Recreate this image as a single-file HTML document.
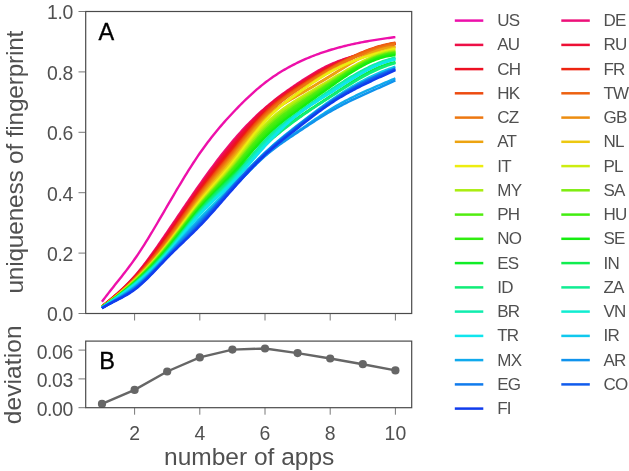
<!DOCTYPE html>
<html><head><meta charset="utf-8"><title>uniqueness of fingerprint</title>
<style>html,body{margin:0;padding:0;background:#fff}svg{display:block}text{font-family:"Liberation Sans",sans-serif;fill:#505050}</style></head><body>
<svg width="629" height="471" viewBox="0 0 629 471">
<rect width="629" height="471" fill="#fff"/>
<g fill="none" stroke-width="2.4" stroke-linecap="butt" stroke-linejoin="round">
<path d="M101.95,301.80 L103.58,299.58 L105.21,297.39 L106.84,295.25 L108.47,293.13 L110.10,291.03 L111.73,288.95 L113.36,286.89 L114.99,284.84 L116.62,282.79 L118.25,280.75 L119.88,278.70 L121.51,276.64 L123.14,274.57 L124.77,272.48 L126.40,270.37 L128.03,268.23 L129.66,266.06 L131.29,263.85 L132.92,261.60 L134.56,259.30 L136.19,256.95 L137.82,254.56 L139.45,252.11 L141.08,249.63 L142.71,247.10 L144.34,244.54 L145.97,241.94 L147.60,239.31 L149.23,236.65 L150.86,233.96 L152.49,231.25 L154.12,228.51 L155.75,225.76 L157.38,222.99 L159.01,220.21 L160.64,217.42 L162.27,214.62 L163.90,211.82 L165.53,209.01 L167.16,206.20 L168.79,203.40 L170.42,200.60 L172.05,197.80 L173.68,195.02 L175.31,192.24 L176.94,189.48 L178.57,186.74 L180.20,184.01 L181.83,181.30 L183.46,178.61 L185.09,175.94 L186.72,173.30 L188.35,170.69 L189.98,168.10 L191.61,165.55 L193.24,163.02 L194.87,160.54 L196.50,158.08 L198.13,155.67 L199.76,153.30 L201.40,150.97 L203.03,148.68 L204.66,146.43 L206.29,144.23 L207.92,142.06 L209.55,139.92 L211.18,137.82 L212.81,135.76 L214.44,133.73 L216.07,131.73 L217.70,129.76 L219.33,127.82 L220.96,125.90 L222.59,124.02 L224.22,122.16 L225.85,120.32 L227.48,118.51 L229.11,116.72 L230.74,114.95 L232.37,113.20 L234.00,111.47 L235.63,109.76 L237.26,108.06 L238.89,106.39 L240.52,104.74 L242.15,103.10 L243.78,101.49 L245.41,99.91 L247.04,98.34 L248.67,96.80 L250.30,95.28 L251.93,93.79 L253.56,92.32 L255.19,90.88 L256.82,89.46 L258.45,88.08 L260.08,86.71 L261.71,85.38 L263.34,84.08 L264.97,82.80 L266.61,81.55 L268.24,80.34 L269.87,79.15 L271.50,77.99 L273.13,76.85 L274.76,75.75 L276.39,74.67 L278.02,73.61 L279.65,72.58 L281.28,71.57 L282.91,70.59 L284.54,69.63 L286.17,68.69 L287.80,67.78 L289.43,66.88 L291.06,66.01 L292.69,65.15 L294.32,64.32 L295.95,63.50 L297.58,62.70 L299.21,61.92 L300.84,61.15 L302.47,60.41 L304.10,59.68 L305.73,58.96 L307.36,58.26 L308.99,57.58 L310.62,56.91 L312.25,56.26 L313.88,55.62 L315.51,55.00 L317.14,54.39 L318.77,53.79 L320.40,53.21 L322.03,52.64 L323.66,52.09 L325.29,51.55 L326.92,51.02 L328.55,50.50 L330.19,50.00 L331.82,49.51 L333.45,49.03 L335.08,48.56 L336.71,48.10 L338.34,47.65 L339.97,47.22 L341.60,46.79 L343.23,46.37 L344.86,45.97 L346.49,45.57 L348.12,45.19 L349.75,44.81 L351.38,44.44 L353.01,44.08 L354.64,43.73 L356.27,43.39 L357.90,43.06 L359.53,42.73 L361.16,42.41 L362.79,42.10 L364.42,41.80 L366.05,41.50 L367.68,41.21 L369.31,40.93 L370.94,40.65 L372.57,40.38 L374.20,40.11 L375.83,39.85 L377.46,39.60 L379.09,39.35 L380.72,39.11 L382.35,38.87 L383.98,38.64 L385.61,38.40 L387.24,38.18 L388.87,37.96 L390.50,37.74 L392.13,37.52 L393.76,37.31 L395.39,37.10" stroke="#ed10aa"/>
<path d="M101.95,306.40 L103.58,305.07 L105.21,303.73 L106.84,302.39 L108.47,301.04 L110.10,299.69 L111.73,298.32 L113.36,296.93 L114.99,295.52 L116.62,294.10 L118.25,292.65 L119.88,291.18 L121.51,289.67 L123.14,288.14 L124.77,286.57 L126.40,284.96 L128.03,283.32 L129.66,281.63 L131.29,279.90 L132.92,278.13 L134.56,276.30 L136.19,274.42 L137.82,272.49 L139.45,270.52 L141.08,268.50 L142.71,266.44 L144.34,264.34 L145.97,262.20 L147.60,260.02 L149.23,257.82 L150.86,255.58 L152.49,253.32 L154.12,251.03 L155.75,248.72 L157.38,246.38 L159.01,244.03 L160.64,241.67 L162.27,239.29 L163.90,236.90 L165.53,234.50 L167.16,232.10 L168.79,229.69 L170.42,227.29 L172.05,224.88 L173.68,222.46 L175.31,220.05 L176.94,217.64 L178.57,215.23 L180.20,212.83 L181.83,210.42 L183.46,208.02 L185.09,205.63 L186.72,203.24 L188.35,200.85 L189.98,198.48 L191.61,196.11 L193.24,193.75 L194.87,191.39 L196.50,189.05 L198.13,186.72 L199.76,184.40 L201.40,182.09 L203.03,179.80 L204.66,177.52 L206.29,175.25 L207.92,173.00 L209.55,170.76 L211.18,168.54 L212.81,166.34 L214.44,164.15 L216.07,161.99 L217.70,159.84 L219.33,157.71 L220.96,155.61 L222.59,153.52 L224.22,151.46 L225.85,149.42 L227.48,147.40 L229.11,145.41 L230.74,143.44 L232.37,141.50 L234.00,139.58 L235.63,137.70 L237.26,135.83 L238.89,134.00 L240.52,132.18 L242.15,130.40 L243.78,128.64 L245.41,126.91 L247.04,125.20 L248.67,123.52 L250.30,121.86 L251.93,120.23 L253.56,118.63 L255.19,117.05 L256.82,115.49 L258.45,113.96 L260.08,112.46 L261.71,110.98 L263.34,109.53 L264.97,108.10 L266.61,106.70 L268.24,105.32 L269.87,103.96 L271.50,102.63 L273.13,101.31 L274.76,100.02 L276.39,98.75 L278.02,97.49 L279.65,96.26 L281.28,95.04 L282.91,93.84 L284.54,92.65 L286.17,91.48 L287.80,90.32 L289.43,89.17 L291.06,88.04 L292.69,86.91 L294.32,85.80 L295.95,84.70 L297.58,83.60 L299.21,82.51 L300.84,81.43 L302.47,80.36 L304.10,79.30 L305.73,78.26 L307.36,77.22 L308.99,76.20 L310.62,75.19 L312.25,74.20 L313.88,73.22 L315.51,72.27 L317.14,71.33 L318.77,70.41 L320.40,69.51 L322.03,68.63 L323.66,67.78 L325.29,66.94 L326.92,66.14 L328.55,65.36 L330.19,64.60 L331.82,63.87 L333.45,63.17 L335.08,62.49 L336.71,61.84 L338.34,61.21 L339.97,60.60 L341.60,60.01 L343.23,59.44 L344.86,58.89 L346.49,58.35 L348.12,57.83 L349.75,57.32 L351.38,56.82 L353.01,56.34 L354.64,55.87 L356.27,55.40 L357.90,54.94 L359.53,54.49 L361.16,54.04 L362.79,53.60 L364.42,53.16 L366.05,52.72 L367.68,52.28 L369.31,51.84 L370.94,51.40 L372.57,50.95 L374.20,50.50 L375.83,50.04 L377.46,49.57 L379.09,49.10 L380.72,48.62 L382.35,48.12 L383.98,47.61 L385.61,47.09 L387.24,46.55 L388.87,46.00 L390.50,45.43 L392.13,44.84 L393.76,44.23 L395.39,43.60" stroke="#ed1079"/>
<path d="M101.95,306.46 L103.58,305.15 L105.21,303.83 L106.84,302.51 L108.47,301.18 L110.10,299.84 L111.73,298.48 L113.36,297.11 L114.99,295.72 L116.62,294.30 L118.25,292.87 L119.88,291.41 L121.51,289.92 L123.14,288.40 L124.77,286.84 L126.40,285.26 L128.03,283.63 L129.66,281.97 L131.29,280.27 L132.92,278.52 L134.56,276.73 L136.19,274.88 L137.82,272.99 L139.45,271.06 L141.08,269.09 L142.71,267.07 L144.34,265.02 L145.97,262.93 L147.60,260.81 L149.23,258.65 L150.86,256.47 L152.49,254.25 L154.12,252.02 L155.75,249.75 L157.38,247.47 L159.01,245.17 L160.64,242.85 L162.27,240.51 L163.90,238.17 L165.53,235.81 L167.16,233.44 L168.79,231.06 L170.42,228.68 L172.05,226.29 L173.68,223.91 L175.31,221.51 L176.94,219.12 L178.57,216.73 L180.20,214.34 L181.83,211.95 L183.46,209.56 L185.09,207.18 L186.72,204.80 L188.35,202.43 L189.98,200.07 L191.61,197.71 L193.24,195.37 L194.87,193.04 L196.50,190.72 L198.13,188.41 L199.76,186.12 L201.40,183.84 L203.03,181.58 L204.66,179.34 L206.29,177.11 L207.92,174.90 L209.55,172.70 L211.18,170.52 L212.81,168.35 L214.44,166.20 L216.07,164.07 L217.70,161.95 L219.33,159.85 L220.96,157.76 L222.59,155.69 L224.22,153.64 L225.85,151.60 L227.48,149.57 L229.11,147.57 L230.74,145.58 L232.37,143.60 L234.00,141.64 L235.63,139.70 L237.26,137.77 L238.89,135.87 L240.52,133.98 L242.15,132.12 L243.78,130.27 L245.41,128.45 L247.04,126.65 L248.67,124.88 L250.30,123.13 L251.93,121.41 L253.56,119.72 L255.19,118.05 L256.82,116.41 L258.45,114.81 L260.08,113.23 L261.71,111.69 L263.34,110.18 L264.97,108.70 L266.61,107.26 L268.24,105.85 L269.87,104.47 L271.50,103.13 L273.13,101.81 L274.76,100.52 L276.39,99.25 L278.02,98.01 L279.65,96.79 L281.28,95.60 L282.91,94.42 L284.54,93.26 L286.17,92.12 L287.80,90.99 L289.43,89.88 L291.06,88.77 L292.69,87.68 L294.32,86.60 L295.95,85.52 L297.58,84.45 L299.21,83.38 L300.84,82.32 L302.47,81.27 L304.10,80.22 L305.73,79.18 L307.36,78.15 L308.99,77.13 L310.62,76.12 L312.25,75.13 L313.88,74.15 L315.51,73.18 L317.14,72.23 L318.77,71.29 L320.40,70.38 L322.03,69.48 L323.66,68.60 L325.29,67.74 L326.92,66.90 L328.55,66.09 L330.19,65.30 L331.82,64.54 L333.45,63.79 L335.08,63.08 L336.71,62.38 L338.34,61.70 L339.97,61.05 L341.60,60.41 L343.23,59.79 L344.86,59.19 L346.49,58.61 L348.12,58.04 L349.75,57.48 L351.38,56.94 L353.01,56.40 L354.64,55.88 L356.27,55.37 L357.90,54.87 L359.53,54.37 L361.16,53.88 L362.79,53.40 L364.42,52.92 L366.05,52.45 L367.68,51.98 L369.31,51.51 L370.94,51.04 L372.57,50.57 L374.20,50.10 L375.83,49.62 L377.46,49.15 L379.09,48.67 L380.72,48.18 L382.35,47.69 L383.98,47.19 L385.61,46.68 L387.24,46.16 L388.87,45.64 L390.50,45.10 L392.13,44.54 L393.76,43.98 L395.39,43.40" stroke="#ed1047"/>
<path d="M101.95,306.52 L103.58,305.23 L105.21,303.94 L106.84,302.63 L108.47,301.32 L110.10,299.99 L111.73,298.65 L113.36,297.29 L114.99,295.91 L116.62,294.51 L118.25,293.08 L119.88,291.64 L121.51,290.16 L123.14,288.66 L124.77,287.12 L126.40,285.55 L128.03,283.95 L129.66,282.31 L131.29,280.63 L132.92,278.91 L134.56,277.15 L136.19,275.34 L137.82,273.49 L139.45,271.60 L141.08,269.67 L142.71,267.70 L144.34,265.70 L145.97,263.66 L147.60,261.59 L149.23,259.48 L150.86,257.35 L152.49,255.19 L154.12,253.00 L155.75,250.79 L157.38,248.56 L159.01,246.30 L160.64,244.03 L162.27,241.74 L163.90,239.43 L165.53,237.11 L167.16,234.78 L168.79,232.43 L170.42,230.08 L172.05,227.71 L173.68,225.35 L175.31,222.97 L176.94,220.60 L178.57,218.22 L180.20,215.84 L181.83,213.47 L183.46,211.09 L185.09,208.72 L186.72,206.36 L188.35,204.00 L189.98,201.66 L191.61,199.32 L193.24,196.99 L194.87,194.68 L196.50,192.38 L198.13,190.10 L199.76,187.84 L201.40,185.60 L203.03,183.37 L204.66,181.16 L206.29,178.97 L207.92,176.80 L209.55,174.64 L211.18,172.50 L212.81,170.37 L214.44,168.25 L216.07,166.15 L217.70,164.06 L219.33,161.99 L220.96,159.92 L222.59,157.86 L224.22,155.82 L225.85,153.78 L227.48,151.75 L229.11,149.72 L230.74,147.71 L232.37,145.70 L234.00,143.70 L235.63,141.70 L237.26,139.71 L238.89,137.74 L240.52,135.78 L242.15,133.83 L243.78,131.90 L245.41,129.99 L247.04,128.10 L248.67,126.24 L250.30,124.40 L251.93,122.58 L253.56,120.80 L255.19,119.05 L256.82,117.33 L258.45,115.64 L260.08,114.00 L261.71,112.39 L263.34,110.82 L264.97,109.30 L266.61,107.82 L268.24,106.39 L269.87,104.99 L271.50,103.63 L273.13,102.31 L274.76,101.03 L276.39,99.77 L278.02,98.55 L279.65,97.35 L281.28,96.17 L282.91,95.02 L284.54,93.89 L286.17,92.78 L287.80,91.68 L289.43,90.60 L291.06,89.52 L292.69,88.46 L294.32,87.40 L295.95,86.35 L297.58,85.30 L299.21,84.25 L300.84,83.20 L302.47,82.15 L304.10,81.11 L305.73,80.07 L307.36,79.04 L308.99,78.02 L310.62,77.01 L312.25,76.00 L313.88,75.01 L315.51,74.03 L317.14,73.06 L318.77,72.11 L320.40,71.18 L322.03,70.26 L323.66,69.37 L325.29,68.49 L326.92,67.64 L328.55,66.81 L330.19,66.00 L331.82,65.22 L333.45,64.46 L335.08,63.73 L336.71,63.02 L338.34,62.33 L339.97,61.67 L341.60,61.02 L343.23,60.39 L344.86,59.78 L346.49,59.18 L348.12,58.60 L349.75,58.03 L351.38,57.48 L353.01,56.94 L354.64,56.41 L356.27,55.89 L357.90,55.38 L359.53,54.88 L361.16,54.39 L362.79,53.90 L364.42,53.42 L366.05,52.94 L367.68,52.46 L369.31,51.99 L370.94,51.51 L372.57,51.04 L374.20,50.56 L375.83,50.09 L377.46,49.60 L379.09,49.12 L380.72,48.63 L382.35,48.13 L383.98,47.63 L385.61,47.11 L387.24,46.59 L388.87,46.06 L390.50,45.51 L392.13,44.96 L393.76,44.39 L395.39,43.80" stroke="#ed1035"/>
<path d="M101.95,306.58 L103.58,305.31 L105.21,304.04 L106.84,302.75 L108.47,301.45 L110.10,300.14 L111.73,298.81 L113.36,297.46 L114.99,296.10 L116.62,294.71 L118.25,293.30 L119.88,291.87 L121.51,290.40 L123.14,288.92 L124.77,287.40 L126.40,285.85 L128.03,284.27 L129.66,282.65 L131.29,281.00 L132.92,279.31 L134.56,277.57 L136.19,275.80 L137.82,273.99 L139.45,272.14 L141.08,270.25 L142.71,268.33 L144.34,266.37 L145.97,264.38 L147.60,262.36 L149.23,260.30 L150.86,258.22 L152.49,256.11 L154.12,253.98 L155.75,251.82 L157.38,249.63 L159.01,247.43 L160.64,245.20 L162.27,242.95 L163.90,240.69 L165.53,238.41 L167.16,236.11 L168.79,233.80 L170.42,231.48 L172.05,229.15 L173.68,226.81 L175.31,224.46 L176.94,222.11 L178.57,219.75 L180.20,217.39 L181.83,215.03 L183.46,212.68 L185.09,210.32 L186.72,207.97 L188.35,205.63 L189.98,203.30 L191.61,200.97 L193.24,198.66 L194.87,196.36 L196.50,194.08 L198.13,191.81 L199.76,189.56 L201.40,187.33 L203.03,185.12 L204.66,182.93 L206.29,180.76 L207.92,178.60 L209.55,176.46 L211.18,174.33 L212.81,172.22 L214.44,170.13 L216.07,168.05 L217.70,165.98 L219.33,163.92 L220.96,161.87 L222.59,159.84 L224.22,157.81 L225.85,155.79 L227.48,153.79 L229.11,151.78 L230.74,149.79 L232.37,147.80 L234.00,145.82 L235.63,143.84 L237.26,141.87 L238.89,139.92 L240.52,137.98 L242.15,136.06 L243.78,134.15 L245.41,132.26 L247.04,130.40 L248.67,128.56 L250.30,126.75 L251.93,124.96 L253.56,123.21 L255.19,121.49 L256.82,119.81 L258.45,118.16 L260.08,116.56 L261.71,114.99 L263.34,113.47 L264.97,112.00 L266.61,110.57 L268.24,109.19 L269.87,107.86 L271.50,106.56 L273.13,105.30 L274.76,104.08 L276.39,102.89 L278.02,101.74 L279.65,100.61 L281.28,99.51 L282.91,98.43 L284.54,97.37 L286.17,96.34 L287.80,95.32 L289.43,94.31 L291.06,93.31 L292.69,92.33 L294.32,91.35 L295.95,90.37 L297.58,89.40 L299.21,88.43 L300.84,87.45 L302.47,86.48 L304.10,85.50 L305.73,84.53 L307.36,83.56 L308.99,82.59 L310.62,81.62 L312.25,80.65 L313.88,79.68 L315.51,78.72 L317.14,77.76 L318.77,76.80 L320.40,75.84 L322.03,74.89 L323.66,73.95 L325.29,73.00 L326.92,72.06 L328.55,71.13 L330.19,70.20 L331.82,69.28 L333.45,68.36 L335.08,67.45 L336.71,66.54 L338.34,65.65 L339.97,64.76 L341.60,63.88 L343.23,63.01 L344.86,62.15 L346.49,61.30 L348.12,60.46 L349.75,59.63 L351.38,58.82 L353.01,58.01 L354.64,57.22 L356.27,56.45 L357.90,55.69 L359.53,54.94 L361.16,54.21 L362.79,53.50 L364.42,52.80 L366.05,52.12 L367.68,51.46 L369.31,50.82 L370.94,50.19 L372.57,49.59 L374.20,49.00 L375.83,48.44 L377.46,47.90 L379.09,47.38 L380.72,46.88 L382.35,46.40 L383.98,45.95 L385.61,45.53 L387.24,45.12 L388.87,44.75 L390.50,44.39 L392.13,44.07 L393.76,43.77 L395.39,43.50" stroke="#ed1022"/>
<path d="M101.95,306.64 L103.58,305.40 L105.21,304.14 L106.84,302.87 L108.47,301.59 L110.10,300.29 L111.73,298.98 L113.36,297.64 L114.99,296.29 L116.62,294.91 L118.25,293.52 L119.88,292.10 L121.51,290.65 L123.14,289.18 L124.77,287.68 L126.40,286.14 L128.03,284.58 L129.66,282.99 L131.29,281.36 L132.92,279.70 L134.56,278.00 L136.19,276.26 L137.82,274.49 L139.45,272.68 L141.08,270.84 L142.71,268.96 L144.34,267.05 L145.97,265.11 L147.60,263.14 L149.23,261.13 L150.86,259.10 L152.49,257.05 L154.12,254.96 L155.75,252.85 L157.38,250.72 L159.01,248.56 L160.64,246.38 L162.27,244.17 L163.90,241.95 L165.53,239.71 L167.16,237.45 L168.79,235.17 L170.42,232.88 L172.05,230.57 L173.68,228.26 L175.31,225.93 L176.94,223.60 L178.57,221.26 L180.20,218.91 L181.83,216.57 L183.46,214.23 L185.09,211.89 L186.72,209.55 L188.35,207.22 L189.98,204.90 L191.61,202.59 L193.24,200.30 L194.87,198.02 L196.50,195.75 L198.13,193.51 L199.76,191.28 L201.40,189.08 L203.03,186.90 L204.66,184.74 L206.29,182.59 L207.92,180.47 L209.55,178.36 L211.18,176.27 L212.81,174.19 L214.44,172.13 L216.07,170.07 L217.70,168.03 L219.33,166.00 L220.96,163.97 L222.59,161.95 L224.22,159.94 L225.85,157.93 L227.48,155.92 L229.11,153.91 L230.74,151.91 L232.37,149.90 L234.00,147.89 L235.63,145.88 L237.26,143.88 L238.89,141.88 L240.52,139.88 L242.15,137.90 L243.78,135.93 L245.41,133.97 L247.04,132.02 L248.67,130.10 L250.30,128.20 L251.93,126.32 L253.56,124.46 L255.19,122.64 L256.82,120.84 L258.45,119.08 L260.08,117.35 L261.71,115.66 L263.34,114.01 L264.97,112.40 L266.61,110.83 L268.24,109.31 L269.87,107.83 L271.50,106.38 L273.13,104.97 L274.76,103.60 L276.39,102.26 L278.02,100.95 L279.65,99.67 L281.28,98.42 L282.91,97.19 L284.54,95.99 L286.17,94.81 L287.80,93.65 L289.43,92.51 L291.06,91.38 L292.69,90.27 L294.32,89.17 L295.95,88.08 L297.58,87.00 L299.21,85.93 L300.84,84.86 L302.47,83.80 L304.10,82.76 L305.73,81.71 L307.36,80.68 L308.99,79.66 L310.62,78.65 L312.25,77.65 L313.88,76.65 L315.51,75.67 L317.14,74.70 L318.77,73.74 L320.40,72.80 L322.03,71.87 L323.66,70.94 L325.29,70.04 L326.92,69.14 L328.55,68.26 L330.19,67.40 L331.82,66.55 L333.45,65.71 L335.08,64.89 L336.71,64.09 L338.34,63.29 L339.97,62.52 L341.60,61.75 L343.23,61.00 L344.86,60.26 L346.49,59.54 L348.12,58.83 L349.75,58.13 L351.38,57.45 L353.01,56.78 L354.64,56.12 L356.27,55.47 L357.90,54.83 L359.53,54.21 L361.16,53.60 L362.79,53.00 L364.42,52.41 L366.05,51.84 L367.68,51.27 L369.31,50.72 L370.94,50.17 L372.57,49.64 L374.20,49.12 L375.83,48.60 L377.46,48.10 L379.09,47.61 L380.72,47.13 L382.35,46.65 L383.98,46.19 L385.61,45.74 L387.24,45.29 L388.87,44.86 L390.50,44.43 L392.13,44.01 L393.76,43.60 L395.39,43.20" stroke="#ed2410"/>
<path d="M101.95,306.70 L103.58,305.48 L105.21,304.24 L106.84,302.99 L108.47,301.73 L110.10,300.44 L111.73,299.14 L113.36,297.82 L114.99,296.48 L116.62,295.12 L118.25,293.73 L119.88,292.33 L121.51,290.89 L123.14,289.44 L124.77,287.95 L126.40,286.44 L128.03,284.90 L129.66,283.33 L131.29,281.73 L132.92,280.09 L134.56,278.43 L136.19,276.72 L137.82,274.99 L139.45,273.22 L141.08,271.42 L142.71,269.59 L144.34,267.73 L145.97,265.84 L147.60,263.91 L149.23,261.96 L150.86,259.98 L152.49,257.98 L154.12,255.94 L155.75,253.88 L157.38,251.80 L159.01,249.69 L160.64,247.55 L162.27,245.40 L163.90,243.21 L165.53,241.01 L167.16,238.79 L168.79,236.54 L170.42,234.28 L172.05,232.00 L173.68,229.71 L175.31,227.40 L176.94,225.09 L178.57,222.77 L180.20,220.44 L181.83,218.11 L183.46,215.78 L185.09,213.46 L186.72,211.13 L188.35,208.82 L189.98,206.51 L191.61,204.22 L193.24,201.94 L194.87,199.67 L196.50,197.43 L198.13,195.20 L199.76,193.00 L201.40,190.82 L203.03,188.67 L204.66,186.54 L206.29,184.42 L207.92,182.33 L209.55,180.25 L211.18,178.19 L212.81,176.14 L214.44,174.11 L216.07,172.08 L217.70,170.06 L219.33,168.05 L220.96,166.04 L222.59,164.04 L224.22,162.04 L225.85,160.04 L227.48,158.04 L229.11,156.03 L230.74,154.02 L232.37,152.00 L234.00,149.97 L235.63,147.94 L237.26,145.91 L238.89,143.87 L240.52,141.84 L242.15,139.81 L243.78,137.80 L245.41,135.79 L247.04,133.80 L248.67,131.82 L250.30,129.86 L251.93,127.93 L253.56,126.02 L255.19,124.14 L256.82,122.29 L258.45,120.47 L260.08,118.69 L261.71,116.95 L263.34,115.25 L264.97,113.60 L266.61,111.99 L268.24,110.43 L269.87,108.91 L271.50,107.44 L273.13,106.00 L274.76,104.60 L276.39,103.24 L278.02,101.91 L279.65,100.62 L281.28,99.35 L282.91,98.11 L284.54,96.90 L286.17,95.71 L287.80,94.54 L289.43,93.40 L291.06,92.27 L292.69,91.16 L294.32,90.06 L295.95,88.98 L297.58,87.90 L299.21,86.83 L300.84,85.78 L302.47,84.73 L304.10,83.68 L305.73,82.65 L307.36,81.62 L308.99,80.61 L310.62,79.60 L312.25,78.60 L313.88,77.60 L315.51,76.62 L317.14,75.64 L318.77,74.67 L320.40,73.71 L322.03,72.75 L323.66,71.81 L325.29,70.87 L326.92,69.94 L328.55,69.02 L330.19,68.10 L331.82,67.19 L333.45,66.29 L335.08,65.40 L336.71,64.52 L338.34,63.64 L339.97,62.78 L341.60,61.93 L343.23,61.09 L344.86,60.26 L346.49,59.44 L348.12,58.63 L349.75,57.84 L351.38,57.06 L353.01,56.29 L354.64,55.54 L356.27,54.80 L357.90,54.07 L359.53,53.37 L361.16,52.67 L362.79,52.00 L364.42,51.34 L366.05,50.70 L367.68,50.08 L369.31,49.47 L370.94,48.89 L372.57,48.32 L374.20,47.78 L375.83,47.25 L377.46,46.75 L379.09,46.26 L380.72,45.80 L382.35,45.36 L383.98,44.94 L385.61,44.55 L387.24,44.18 L388.87,43.83 L390.50,43.51 L392.13,43.22 L393.76,42.95 L395.39,42.70" stroke="#ed4b10"/>
<path d="M101.95,306.76 L103.58,305.56 L105.21,304.35 L106.84,303.11 L108.47,301.86 L110.10,300.60 L111.73,299.31 L113.36,298.00 L114.99,296.67 L116.62,295.32 L118.25,293.95 L119.88,292.56 L121.51,291.14 L123.14,289.69 L124.77,288.23 L126.40,286.73 L128.03,285.21 L129.66,283.66 L131.29,282.09 L132.92,280.48 L134.56,278.85 L136.19,277.19 L137.82,275.49 L139.45,273.77 L141.08,272.02 L142.71,270.23 L144.34,268.42 L145.97,266.58 L147.60,264.71 L149.23,262.81 L150.86,260.89 L152.49,258.93 L154.12,256.95 L155.75,254.94 L157.38,252.91 L159.01,250.84 L160.64,248.75 L162.27,246.63 L163.90,244.49 L165.53,242.32 L167.16,240.12 L168.79,237.90 L170.42,235.66 L172.05,233.39 L173.68,231.11 L175.31,228.81 L176.94,226.50 L178.57,224.18 L180.20,221.86 L181.83,219.53 L183.46,217.19 L185.09,214.86 L186.72,212.53 L188.35,210.21 L189.98,207.90 L191.61,205.60 L193.24,203.31 L194.87,201.04 L196.50,198.79 L198.13,196.56 L199.76,194.36 L201.40,192.18 L203.03,190.03 L204.66,187.91 L206.29,185.80 L207.92,183.72 L209.55,181.65 L211.18,179.61 L212.81,177.57 L214.44,175.55 L216.07,173.54 L217.70,171.53 L219.33,169.54 L220.96,167.54 L222.59,165.55 L224.22,163.57 L225.85,161.58 L227.48,159.59 L229.11,157.59 L230.74,155.59 L232.37,153.57 L234.00,151.55 L235.63,149.53 L237.26,147.49 L238.89,145.46 L240.52,143.42 L242.15,141.39 L243.78,139.37 L245.41,137.36 L247.04,135.35 L248.67,133.37 L250.30,131.40 L251.93,129.46 L253.56,127.53 L255.19,125.64 L256.82,123.77 L258.45,121.94 L260.08,120.15 L261.71,118.39 L263.34,116.67 L264.97,115.00 L266.61,113.37 L268.24,111.79 L269.87,110.26 L271.50,108.76 L273.13,107.31 L274.76,105.89 L276.39,104.50 L278.02,103.16 L279.65,101.84 L281.28,100.55 L282.91,99.29 L284.54,98.06 L286.17,96.85 L287.80,95.66 L289.43,94.50 L291.06,93.35 L292.69,92.22 L294.32,91.10 L295.95,89.99 L297.58,88.90 L299.21,87.82 L300.84,86.74 L302.47,85.67 L304.10,84.61 L305.73,83.56 L307.36,82.52 L308.99,81.49 L310.62,80.46 L312.25,79.44 L313.88,78.44 L315.51,77.44 L317.14,76.44 L318.77,75.46 L320.40,74.48 L322.03,73.52 L323.66,72.56 L325.29,71.61 L326.92,70.66 L328.55,69.73 L330.19,68.80 L331.82,67.88 L333.45,66.97 L335.08,66.07 L336.71,65.17 L338.34,64.29 L339.97,63.41 L341.60,62.55 L343.23,61.70 L344.86,60.86 L346.49,60.03 L348.12,59.21 L349.75,58.41 L351.38,57.62 L353.01,56.84 L354.64,56.08 L356.27,55.33 L357.90,54.60 L359.53,53.88 L361.16,53.18 L362.79,52.50 L364.42,51.83 L366.05,51.18 L367.68,50.55 L369.31,49.94 L370.94,49.34 L372.57,48.77 L374.20,48.21 L375.83,47.68 L377.46,47.16 L379.09,46.67 L380.72,46.20 L382.35,45.75 L383.98,45.32 L385.61,44.92 L387.24,44.54 L388.87,44.18 L390.50,43.85 L392.13,43.54 L393.76,43.26 L395.39,43.00" stroke="#ed6110"/>
<path d="M101.95,306.82 L103.58,305.64 L105.21,304.45 L106.84,303.24 L108.47,302.00 L110.10,300.75 L111.73,299.48 L113.36,298.18 L114.99,296.86 L116.62,295.53 L118.25,294.17 L119.88,292.78 L121.51,291.38 L123.14,289.95 L124.77,288.50 L126.40,287.02 L128.03,285.52 L129.66,284.00 L131.29,282.45 L132.92,280.88 L134.56,279.27 L136.19,277.65 L137.82,275.99 L139.45,274.32 L141.08,272.61 L142.71,270.87 L144.34,269.11 L145.97,267.32 L147.60,265.51 L149.23,263.66 L150.86,261.79 L152.49,259.89 L154.12,257.96 L155.75,256.00 L157.38,254.01 L159.01,252.00 L160.64,249.95 L162.27,247.87 L163.90,245.77 L165.53,243.63 L167.16,241.46 L168.79,239.26 L170.42,237.04 L172.05,234.79 L173.68,232.52 L175.31,230.23 L176.94,227.92 L178.57,225.60 L180.20,223.28 L181.83,220.94 L183.46,218.60 L185.09,216.27 L186.72,213.93 L188.35,211.60 L189.98,209.28 L191.61,206.98 L193.24,204.68 L194.87,202.41 L196.50,200.15 L198.13,197.92 L199.76,195.72 L201.40,193.55 L203.03,191.40 L204.66,189.28 L206.29,187.19 L207.92,185.11 L209.55,183.06 L211.18,181.02 L212.81,179.00 L214.44,176.99 L216.07,174.99 L217.70,173.00 L219.33,171.02 L220.96,169.04 L222.59,167.07 L224.22,165.09 L225.85,163.12 L227.48,161.14 L229.11,159.15 L230.74,157.16 L232.37,155.15 L234.00,153.13 L235.63,151.11 L237.26,149.07 L238.89,147.04 L240.52,145.00 L242.15,142.96 L243.78,140.94 L245.41,138.91 L247.04,136.90 L248.67,134.91 L250.30,132.93 L251.93,130.97 L253.56,129.04 L255.19,127.13 L256.82,125.25 L258.45,123.41 L260.08,121.59 L261.71,119.82 L263.34,118.09 L264.97,116.40 L266.61,114.76 L268.24,113.16 L269.87,111.61 L271.50,110.10 L273.13,108.62 L274.76,107.19 L276.39,105.79 L278.02,104.42 L279.65,103.08 L281.28,101.78 L282.91,100.50 L284.54,99.25 L286.17,98.02 L287.80,96.81 L289.43,95.62 L291.06,94.45 L292.69,93.29 L294.32,92.15 L295.95,91.02 L297.58,89.90 L299.21,88.79 L300.84,87.68 L302.47,86.59 L304.10,85.50 L305.73,84.42 L307.36,83.35 L308.99,82.29 L310.62,81.24 L312.25,80.20 L313.88,79.17 L315.51,78.15 L317.14,77.14 L318.77,76.14 L320.40,75.16 L322.03,74.18 L323.66,73.22 L325.29,72.27 L326.92,71.34 L328.55,70.41 L330.19,69.50 L331.82,68.60 L333.45,67.72 L335.08,66.85 L336.71,65.99 L338.34,65.15 L339.97,64.32 L341.60,63.50 L343.23,62.70 L344.86,61.91 L346.49,61.13 L348.12,60.37 L349.75,59.62 L351.38,58.88 L353.01,58.16 L354.64,57.45 L356.27,56.75 L357.90,56.07 L359.53,55.40 L361.16,54.74 L362.79,54.10 L364.42,53.47 L366.05,52.85 L367.68,52.25 L369.31,51.66 L370.94,51.08 L372.57,50.52 L374.20,49.97 L375.83,49.43 L377.46,48.91 L379.09,48.39 L380.72,47.90 L382.35,47.41 L383.98,46.94 L385.61,46.48 L387.24,46.03 L388.87,45.60 L390.50,45.18 L392.13,44.77 L393.76,44.38 L395.39,44.00" stroke="#ed7710"/>
<path d="M101.95,306.88 L103.58,305.73 L105.21,304.56 L106.84,303.36 L108.47,302.14 L110.10,300.90 L111.73,299.64 L113.36,298.36 L114.99,297.06 L116.62,295.73 L118.25,294.38 L119.88,293.01 L121.51,291.62 L123.14,290.21 L124.77,288.77 L126.40,287.32 L128.03,285.84 L129.66,284.34 L131.29,282.81 L132.92,281.27 L134.56,279.70 L136.19,278.11 L137.82,276.50 L139.45,274.86 L141.08,273.20 L142.71,271.52 L144.34,269.81 L145.97,268.07 L147.60,266.31 L149.23,264.52 L150.86,262.70 L152.49,260.85 L154.12,258.98 L155.75,257.07 L157.38,255.13 L159.01,253.16 L160.64,251.15 L162.27,249.12 L163.90,247.05 L165.53,244.94 L167.16,242.80 L168.79,240.62 L170.42,238.42 L172.05,236.18 L173.68,233.91 L175.31,231.63 L176.94,229.33 L178.57,227.01 L180.20,224.68 L181.83,222.34 L183.46,220.00 L185.09,217.65 L186.72,215.31 L188.35,212.97 L189.98,210.65 L191.61,208.33 L193.24,206.04 L194.87,203.76 L196.50,201.50 L198.13,199.28 L199.76,197.08 L201.40,194.92 L203.03,192.78 L204.66,190.68 L206.29,188.60 L207.92,186.54 L209.55,184.51 L211.18,182.49 L212.81,180.49 L214.44,178.50 L216.07,176.53 L217.70,174.56 L219.33,172.59 L220.96,170.63 L222.59,168.66 L224.22,166.70 L225.85,164.72 L227.48,162.74 L229.11,160.75 L230.74,158.75 L232.37,156.73 L234.00,154.69 L235.63,152.63 L237.26,150.57 L238.89,148.50 L240.52,146.43 L242.15,144.36 L243.78,142.30 L245.41,140.25 L247.04,138.21 L248.67,136.19 L250.30,134.20 L251.93,132.23 L253.56,130.30 L255.19,128.40 L256.82,126.54 L258.45,124.73 L260.08,122.96 L261.71,121.25 L263.34,119.59 L264.97,118.00 L266.61,116.47 L268.24,115.00 L269.87,113.60 L271.50,112.24 L273.13,110.94 L274.76,109.69 L276.39,108.48 L278.02,107.31 L279.65,106.19 L281.28,105.09 L282.91,104.03 L284.54,103.00 L286.17,101.98 L287.80,101.00 L289.43,100.02 L291.06,99.06 L292.69,98.12 L294.32,97.17 L295.95,96.24 L297.58,95.30 L299.21,94.36 L300.84,93.42 L302.47,92.47 L304.10,91.52 L305.73,90.56 L307.36,89.61 L308.99,88.65 L310.62,87.68 L312.25,86.71 L313.88,85.74 L315.51,84.76 L317.14,83.78 L318.77,82.80 L320.40,81.81 L322.03,80.82 L323.66,79.83 L325.29,78.83 L326.92,77.82 L328.55,76.81 L330.19,75.80 L331.82,74.78 L333.45,73.76 L335.08,72.74 L336.71,71.72 L338.34,70.70 L339.97,69.68 L341.60,68.67 L343.23,67.66 L344.86,66.66 L346.49,65.67 L348.12,64.69 L349.75,63.71 L351.38,62.75 L353.01,61.81 L354.64,60.88 L356.27,59.96 L357.90,59.07 L359.53,58.19 L361.16,57.33 L362.79,56.50 L364.42,55.69 L366.05,54.90 L367.68,54.14 L369.31,53.41 L370.94,52.71 L372.57,52.04 L374.20,51.40 L375.83,50.79 L377.46,50.22 L379.09,49.68 L380.72,49.18 L382.35,48.72 L383.98,48.30 L385.61,47.92 L387.24,47.59 L388.87,47.29 L390.50,47.05 L392.13,46.85 L393.76,46.70 L395.39,46.60" stroke="#ed8d10"/>
<path d="M101.95,306.92 L103.58,305.77 L105.21,304.61 L106.84,303.42 L108.47,302.21 L110.10,300.98 L111.73,299.73 L113.36,298.46 L114.99,297.17 L116.62,295.86 L118.25,294.53 L119.88,293.17 L121.51,291.79 L123.14,290.40 L124.77,288.98 L126.40,287.53 L128.03,286.07 L129.66,284.59 L131.29,283.08 L132.92,281.55 L134.56,279.99 L136.19,278.42 L137.82,276.82 L139.45,275.20 L141.08,273.55 L142.71,271.88 L144.34,270.18 L145.97,268.46 L147.60,266.71 L149.23,264.93 L150.86,263.13 L152.49,261.30 L154.12,259.43 L155.75,257.54 L157.38,255.62 L159.01,253.67 L160.64,251.69 L162.27,249.67 L163.90,247.63 L165.53,245.55 L167.16,243.44 L168.79,241.29 L170.42,239.11 L172.05,236.91 L173.68,234.68 L175.31,232.43 L176.94,230.16 L178.57,227.88 L180.20,225.59 L181.83,223.29 L183.46,220.99 L185.09,218.68 L186.72,216.38 L188.35,214.08 L189.98,211.80 L191.61,209.52 L193.24,207.26 L194.87,205.02 L196.50,202.80 L198.13,200.61 L199.76,198.44 L201.40,196.31 L203.03,194.20 L204.66,192.12 L206.29,190.07 L207.92,188.04 L209.55,186.02 L211.18,184.02 L212.81,182.04 L214.44,180.06 L216.07,178.10 L217.70,176.14 L219.33,174.18 L220.96,172.22 L222.59,170.26 L224.22,168.30 L225.85,166.32 L227.48,164.34 L229.11,162.34 L230.74,160.33 L232.37,158.30 L234.00,156.25 L235.63,154.18 L237.26,152.10 L238.89,150.01 L240.52,147.92 L242.15,145.83 L243.78,143.74 L245.41,141.66 L247.04,139.60 L248.67,137.55 L250.30,135.52 L251.93,133.52 L253.56,131.56 L255.19,129.62 L256.82,127.73 L258.45,125.88 L260.08,124.08 L261.71,122.33 L263.34,120.63 L264.97,119.00 L266.61,117.43 L268.24,115.92 L269.87,114.48 L271.50,113.08 L273.13,111.74 L274.76,110.45 L276.39,109.21 L278.02,108.00 L279.65,106.84 L281.28,105.71 L282.91,104.62 L284.54,103.55 L286.17,102.51 L287.80,101.50 L289.43,100.50 L291.06,99.52 L292.69,98.55 L294.32,97.60 L295.95,96.65 L297.58,95.70 L299.21,94.75 L300.84,93.81 L302.47,92.86 L304.10,91.92 L305.73,90.97 L307.36,90.02 L308.99,89.07 L310.62,88.11 L312.25,87.16 L313.88,86.20 L315.51,85.24 L317.14,84.28 L318.77,83.31 L320.40,82.34 L322.03,81.36 L323.66,80.38 L325.29,79.39 L326.92,78.40 L328.55,77.40 L330.19,76.40 L331.82,75.39 L333.45,74.38 L335.08,73.36 L336.71,72.34 L338.34,71.32 L339.97,70.30 L341.60,69.29 L343.23,68.28 L344.86,67.27 L346.49,66.27 L348.12,65.28 L349.75,64.30 L351.38,63.33 L353.01,62.38 L354.64,61.43 L356.27,60.51 L357.90,59.60 L359.53,58.71 L361.16,57.85 L362.79,57.00 L364.42,56.18 L366.05,55.38 L367.68,54.61 L369.31,53.87 L370.94,53.15 L372.57,52.47 L374.20,51.82 L375.83,51.20 L377.46,50.62 L379.09,50.08 L380.72,49.57 L382.35,49.11 L383.98,48.68 L385.61,48.30 L387.24,47.97 L388.87,47.68 L390.50,47.43 L392.13,47.24 L393.76,47.09 L395.39,47.00" stroke="#eda310"/>
<path d="M101.95,306.96 L103.58,305.82 L105.21,304.66 L106.84,303.48 L108.47,302.28 L110.10,301.06 L111.73,299.82 L113.36,298.57 L114.99,297.29 L116.62,295.99 L118.25,294.67 L119.88,293.33 L121.51,291.97 L123.14,290.58 L124.77,289.18 L126.40,287.75 L128.03,286.30 L129.66,284.83 L131.29,283.34 L132.92,281.83 L134.56,280.29 L136.19,278.73 L137.82,277.14 L139.45,275.54 L141.08,273.90 L142.71,272.25 L144.34,270.57 L145.97,268.86 L147.60,267.12 L149.23,265.36 L150.86,263.57 L152.49,261.76 L154.12,259.91 L155.75,258.04 L157.38,256.13 L159.01,254.20 L160.64,252.24 L162.27,250.24 L163.90,248.22 L165.53,246.16 L167.16,244.07 L168.79,241.95 L170.42,239.80 L172.05,237.62 L173.68,235.42 L175.31,233.20 L176.94,230.96 L178.57,228.71 L180.20,226.45 L181.83,224.19 L183.46,221.92 L185.09,219.65 L186.72,217.39 L188.35,215.13 L189.98,212.88 L191.61,210.65 L193.24,208.43 L194.87,206.23 L196.50,204.06 L198.13,201.92 L199.76,199.80 L201.40,197.72 L203.03,195.66 L204.66,193.64 L206.29,191.64 L207.92,189.66 L209.55,187.70 L211.18,185.76 L212.81,183.83 L214.44,181.91 L216.07,179.99 L217.70,178.08 L219.33,176.18 L220.96,174.27 L222.59,172.35 L224.22,170.43 L225.85,168.50 L227.48,166.55 L229.11,164.59 L230.74,162.60 L232.37,160.60 L234.00,158.57 L235.63,156.52 L237.26,154.45 L238.89,152.37 L240.52,150.28 L242.15,148.19 L243.78,146.09 L245.41,143.99 L247.04,141.90 L248.67,139.82 L250.30,137.75 L251.93,135.70 L253.56,133.67 L255.19,131.67 L256.82,129.70 L258.45,127.75 L260.08,125.85 L261.71,123.99 L263.34,122.17 L264.97,120.40 L266.61,118.68 L268.24,117.01 L269.87,115.39 L271.50,113.82 L273.13,112.29 L274.76,110.80 L276.39,109.34 L278.02,107.92 L279.65,106.54 L281.28,105.18 L282.91,103.86 L284.54,102.56 L286.17,101.28 L287.80,100.03 L289.43,98.79 L291.06,97.57 L292.69,96.36 L294.32,95.17 L295.95,93.98 L297.58,92.80 L299.21,91.62 L300.84,90.45 L302.47,89.29 L304.10,88.13 L305.73,86.98 L307.36,85.84 L308.99,84.71 L310.62,83.59 L312.25,82.49 L313.88,81.39 L315.51,80.31 L317.14,79.25 L318.77,78.20 L320.40,77.17 L322.03,76.16 L323.66,75.16 L325.29,74.19 L326.92,73.24 L328.55,72.31 L330.19,71.40 L331.82,70.52 L333.45,69.66 L335.08,68.82 L336.71,68.01 L338.34,67.21 L339.97,66.44 L341.60,65.69 L343.23,64.96 L344.86,64.24 L346.49,63.54 L348.12,62.86 L349.75,62.20 L351.38,61.55 L353.01,60.92 L354.64,60.30 L356.27,59.70 L357.90,59.11 L359.53,58.53 L361.16,57.96 L362.79,57.40 L364.42,56.85 L366.05,56.31 L367.68,55.78 L369.31,55.26 L370.94,54.75 L372.57,54.24 L374.20,53.74 L375.83,53.24 L377.46,52.75 L379.09,52.26 L380.72,51.77 L382.35,51.28 L383.98,50.80 L385.61,50.32 L387.24,49.84 L388.87,49.35 L390.50,48.87 L392.13,48.38 L393.76,47.89 L395.39,47.40" stroke="#edc810"/>
<path d="M101.95,307.00 L103.58,305.87 L105.21,304.71 L106.84,303.54 L108.47,302.35 L110.10,301.14 L111.73,299.91 L113.36,298.67 L114.99,297.40 L116.62,296.12 L118.25,294.81 L119.88,293.48 L121.51,292.14 L123.14,290.77 L124.77,289.38 L126.40,287.97 L128.03,286.54 L129.66,285.08 L131.29,283.61 L132.92,282.11 L134.56,280.58 L136.19,279.03 L137.82,277.46 L139.45,275.87 L141.08,274.25 L142.71,272.60 L144.34,270.93 L145.97,269.23 L147.60,267.51 L149.23,265.76 L150.86,263.99 L152.49,262.18 L154.12,260.35 L155.75,258.50 L157.38,256.61 L159.01,254.70 L160.64,252.76 L162.27,250.79 L163.90,248.79 L165.53,246.76 L167.16,244.71 L168.79,242.62 L170.42,240.51 L172.05,238.37 L173.68,236.21 L175.31,234.04 L176.94,231.85 L178.57,229.65 L180.20,227.44 L181.83,225.23 L183.46,223.02 L185.09,220.80 L186.72,218.60 L188.35,216.40 L189.98,214.21 L191.61,212.04 L193.24,209.88 L194.87,207.75 L196.50,205.64 L198.13,203.55 L199.76,201.50 L201.40,199.48 L203.03,197.49 L204.66,195.52 L206.29,193.58 L207.92,191.66 L209.55,189.75 L211.18,187.86 L212.81,185.98 L214.44,184.10 L216.07,182.23 L217.70,180.36 L219.33,178.48 L220.96,176.59 L222.59,174.70 L224.22,172.78 L225.85,170.86 L227.48,168.91 L229.11,166.93 L230.74,164.93 L232.37,162.90 L234.00,160.83 L235.63,158.74 L237.26,156.62 L238.89,154.48 L240.52,152.32 L242.15,150.15 L243.78,147.98 L245.41,145.80 L247.04,143.63 L248.67,141.47 L250.30,139.31 L251.93,137.18 L253.56,135.07 L255.19,132.98 L256.82,130.93 L258.45,128.91 L260.08,126.93 L261.71,125.00 L263.34,123.12 L264.97,121.30 L266.61,119.53 L268.24,117.83 L269.87,116.17 L271.50,114.57 L273.13,113.01 L274.76,111.50 L276.39,110.04 L278.02,108.61 L279.65,107.23 L281.28,105.87 L282.91,104.55 L284.54,103.26 L286.17,101.99 L287.80,100.74 L289.43,99.52 L291.06,98.31 L292.69,97.12 L294.32,95.94 L295.95,94.77 L297.58,93.60 L299.21,92.44 L300.84,91.28 L302.47,90.13 L304.10,88.98 L305.73,87.84 L307.36,86.71 L308.99,85.58 L310.62,84.47 L312.25,83.37 L313.88,82.27 L315.51,81.20 L317.14,80.13 L318.77,79.08 L320.40,78.04 L322.03,77.02 L323.66,76.02 L325.29,75.04 L326.92,74.07 L328.55,73.12 L330.19,72.20 L331.82,71.30 L333.45,70.42 L335.08,69.55 L336.71,68.71 L338.34,67.90 L339.97,67.10 L341.60,66.31 L343.23,65.55 L344.86,64.81 L346.49,64.09 L348.12,63.38 L349.75,62.69 L351.38,62.02 L353.01,61.36 L354.64,60.72 L356.27,60.10 L357.90,59.49 L359.53,58.89 L361.16,58.32 L362.79,57.75 L364.42,57.20 L366.05,56.66 L367.68,56.14 L369.31,55.62 L370.94,55.12 L372.57,54.63 L374.20,54.16 L375.83,53.69 L377.46,53.24 L379.09,52.79 L380.72,52.35 L382.35,51.93 L383.98,51.51 L385.61,51.10 L387.24,50.70 L388.87,50.31 L390.50,49.92 L392.13,49.54 L393.76,49.17 L395.39,48.80" stroke="#eded10"/>
<path d="M101.95,307.05 L103.58,305.91 L105.21,304.76 L106.84,303.60 L108.47,302.41 L110.10,301.21 L111.73,300.00 L113.36,298.76 L114.99,297.51 L116.62,296.24 L118.25,294.95 L119.88,293.64 L121.51,292.31 L123.14,290.96 L124.77,289.59 L126.40,288.19 L128.03,286.78 L129.66,285.34 L131.29,283.87 L132.92,282.39 L134.56,280.88 L136.19,279.34 L137.82,277.78 L139.45,276.19 L141.08,274.58 L142.71,272.95 L144.34,271.28 L145.97,269.60 L147.60,267.89 L149.23,266.15 L150.86,264.39 L152.49,262.60 L154.12,260.78 L155.75,258.94 L157.38,257.08 L159.01,255.19 L160.64,253.27 L162.27,251.33 L163.90,249.36 L165.53,247.36 L167.16,245.34 L168.79,243.29 L170.42,241.22 L172.05,239.13 L173.68,237.03 L175.31,234.90 L176.94,232.77 L178.57,230.62 L180.20,228.47 L181.83,226.32 L183.46,224.16 L185.09,222.01 L186.72,219.86 L188.35,217.72 L189.98,215.59 L191.61,213.48 L193.24,211.38 L194.87,209.30 L196.50,207.24 L198.13,205.21 L199.76,203.20 L201.40,201.22 L203.03,199.27 L204.66,197.35 L206.29,195.44 L207.92,193.56 L209.55,191.68 L211.18,189.82 L212.81,187.97 L214.44,186.12 L216.07,184.27 L217.70,182.43 L219.33,180.57 L220.96,178.71 L222.59,176.84 L224.22,174.95 L225.85,173.05 L227.48,171.13 L229.11,169.18 L230.74,167.20 L232.37,165.20 L234.00,163.16 L235.63,161.10 L237.26,159.01 L238.89,156.90 L240.52,154.78 L242.15,152.65 L243.78,150.51 L245.41,148.38 L247.04,146.25 L248.67,144.13 L250.30,142.03 L251.93,139.95 L253.56,137.89 L255.19,135.86 L256.82,133.87 L258.45,131.92 L260.08,130.01 L261.71,128.15 L263.34,126.35 L264.97,124.60 L266.61,122.92 L268.24,121.30 L269.87,119.73 L271.50,118.23 L273.13,116.77 L274.76,115.37 L276.39,114.01 L278.02,112.69 L279.65,111.42 L281.28,110.18 L282.91,108.98 L284.54,107.82 L286.17,106.68 L287.80,105.57 L289.43,104.48 L291.06,103.41 L292.69,102.37 L294.32,101.33 L295.95,100.31 L297.58,99.30 L299.21,98.30 L300.84,97.30 L302.47,96.30 L304.10,95.32 L305.73,94.33 L307.36,93.36 L308.99,92.38 L310.62,91.41 L312.25,90.44 L313.88,89.47 L315.51,88.50 L317.14,87.54 L318.77,86.58 L320.40,85.61 L322.03,84.65 L323.66,83.68 L325.29,82.71 L326.92,81.75 L328.55,80.77 L330.19,79.80 L331.82,78.82 L333.45,77.84 L335.08,76.86 L336.71,75.88 L338.34,74.90 L339.97,73.93 L341.60,72.95 L343.23,71.98 L344.86,71.02 L346.49,70.07 L348.12,69.12 L349.75,68.18 L351.38,67.25 L353.01,66.34 L354.64,65.43 L356.27,64.54 L357.90,63.67 L359.53,62.81 L361.16,61.97 L362.79,61.15 L364.42,60.35 L366.05,59.57 L367.68,58.81 L369.31,58.07 L370.94,57.36 L372.57,56.67 L374.20,56.01 L375.83,55.38 L377.46,54.78 L379.09,54.21 L380.72,53.67 L382.35,53.16 L383.98,52.68 L385.61,52.24 L387.24,51.84 L388.87,51.47 L390.50,51.14 L392.13,50.86 L393.76,50.61 L395.39,50.40" stroke="#cced10"/>
<path d="M101.95,307.09 L103.58,305.96 L105.21,304.82 L106.84,303.66 L108.47,302.49 L110.10,301.30 L111.73,300.09 L113.36,298.87 L114.99,297.63 L116.62,296.37 L118.25,295.09 L119.88,293.80 L121.51,292.48 L123.14,291.14 L124.77,289.79 L126.40,288.41 L128.03,287.01 L129.66,285.58 L131.29,284.13 L132.92,282.66 L134.56,281.17 L136.19,279.65 L137.82,278.11 L139.45,276.54 L141.08,274.95 L142.71,273.33 L144.34,271.69 L145.97,270.02 L147.60,268.32 L149.23,266.61 L150.86,264.86 L152.49,263.09 L154.12,261.29 L155.75,259.47 L157.38,257.62 L159.01,255.75 L160.64,253.85 L162.27,251.92 L163.90,249.96 L165.53,247.98 L167.16,245.98 L168.79,243.94 L170.42,241.88 L172.05,239.81 L173.68,237.71 L175.31,235.60 L176.94,233.47 L178.57,231.34 L180.20,229.20 L181.83,227.05 L183.46,224.91 L185.09,222.77 L186.72,220.63 L188.35,218.50 L189.98,216.38 L191.61,214.28 L193.24,212.19 L194.87,210.13 L196.50,208.08 L198.13,206.07 L199.76,204.08 L201.40,202.12 L203.03,200.19 L204.66,198.28 L206.29,196.40 L207.92,194.54 L209.55,192.69 L211.18,190.85 L212.81,189.03 L214.44,187.21 L216.07,185.39 L217.70,183.57 L219.33,181.75 L220.96,179.92 L222.59,178.08 L224.22,176.23 L225.85,174.37 L227.48,172.48 L229.11,170.57 L230.74,168.63 L232.37,166.67 L234.00,164.67 L235.63,162.65 L237.26,160.60 L238.89,158.53 L240.52,156.45 L242.15,154.36 L243.78,152.27 L245.41,150.18 L247.04,148.09 L248.67,146.01 L250.30,143.94 L251.93,141.90 L253.56,139.87 L255.19,137.88 L256.82,135.91 L258.45,133.99 L260.08,132.10 L261.71,130.27 L263.34,128.48 L264.97,126.75 L266.61,125.08 L268.24,123.46 L269.87,121.91 L271.50,120.40 L273.13,118.94 L274.76,117.53 L276.39,116.16 L278.02,114.84 L279.65,113.55 L281.28,112.30 L282.91,111.08 L284.54,109.90 L286.17,108.74 L287.80,107.60 L289.43,106.49 L291.06,105.40 L292.69,104.32 L294.32,103.26 L295.95,102.21 L297.58,101.17 L299.21,100.13 L300.84,99.10 L302.47,98.08 L304.10,97.05 L305.73,96.04 L307.36,95.02 L308.99,94.02 L310.62,93.01 L312.25,92.00 L313.88,91.00 L315.51,90.00 L317.14,89.00 L318.77,88.00 L320.40,87.01 L322.03,86.01 L323.66,85.01 L325.29,84.01 L326.92,83.01 L328.55,82.01 L330.19,81.00 L331.82,79.99 L333.45,78.98 L335.08,77.97 L336.71,76.97 L338.34,75.96 L339.97,74.96 L341.60,73.96 L343.23,72.97 L344.86,71.98 L346.49,71.00 L348.12,70.03 L349.75,69.07 L351.38,68.13 L353.01,67.19 L354.64,66.27 L356.27,65.37 L357.90,64.48 L359.53,63.60 L361.16,62.75 L362.79,61.92 L364.42,61.10 L366.05,60.31 L367.68,59.55 L369.31,58.80 L370.94,58.09 L372.57,57.39 L374.20,56.73 L375.83,56.10 L377.46,55.50 L379.09,54.92 L380.72,54.38 L382.35,53.88 L383.98,53.41 L385.61,52.98 L387.24,52.58 L388.87,52.22 L390.50,51.90 L392.13,51.63 L393.76,51.39 L395.39,51.20" stroke="#aaed10"/>
<path d="M101.95,307.13 L103.58,306.01 L105.21,304.88 L106.84,303.73 L108.47,302.56 L110.10,301.38 L111.73,300.19 L113.36,298.98 L114.99,297.75 L116.62,296.50 L118.25,295.24 L119.88,293.95 L121.51,292.65 L123.14,291.33 L124.77,289.98 L126.40,288.62 L128.03,287.23 L129.66,285.83 L131.29,284.40 L132.92,282.94 L134.56,281.46 L136.19,279.96 L137.82,278.44 L139.45,276.89 L141.08,275.31 L142.71,273.71 L144.34,272.09 L145.97,270.44 L147.60,268.76 L149.23,267.06 L150.86,265.34 L152.49,263.58 L154.12,261.80 L155.75,260.00 L157.38,258.17 L159.01,256.31 L160.64,254.42 L162.27,252.51 L163.90,250.57 L165.53,248.61 L167.16,246.61 L168.79,244.59 L170.42,242.54 L172.05,240.48 L173.68,238.39 L175.31,236.29 L176.94,234.17 L178.57,232.05 L180.20,229.92 L181.83,227.79 L183.46,225.65 L185.09,223.52 L186.72,221.39 L188.35,219.28 L189.98,217.17 L191.61,215.08 L193.24,213.01 L194.87,210.96 L196.50,208.93 L198.13,206.93 L199.76,204.95 L201.40,203.01 L203.03,201.10 L204.66,199.22 L206.29,197.36 L207.92,195.52 L209.55,193.70 L211.18,191.89 L212.81,190.09 L214.44,188.29 L216.07,186.51 L217.70,184.72 L219.33,182.93 L220.96,181.13 L222.59,179.33 L224.22,177.51 L225.85,175.68 L227.48,173.83 L229.11,171.96 L230.74,170.06 L232.37,168.13 L234.00,166.18 L235.63,164.19 L237.26,162.19 L238.89,160.16 L240.52,158.13 L242.15,156.08 L243.78,154.03 L245.41,151.98 L247.04,149.93 L248.67,147.89 L250.30,145.86 L251.93,143.85 L253.56,141.86 L255.19,139.89 L256.82,137.96 L258.45,136.06 L260.08,134.20 L261.71,132.38 L263.34,130.62 L264.97,128.90 L266.61,127.24 L268.24,125.63 L269.87,124.08 L271.50,122.57 L273.13,121.11 L274.76,119.70 L276.39,118.32 L278.02,116.99 L279.65,115.69 L281.28,114.42 L282.91,113.18 L284.54,111.98 L286.17,110.80 L287.80,109.64 L289.43,108.50 L291.06,107.38 L292.69,106.28 L294.32,105.19 L295.95,104.11 L297.58,103.03 L299.21,101.97 L300.84,100.90 L302.47,99.85 L304.10,98.79 L305.73,97.74 L307.36,96.69 L308.99,95.65 L310.62,94.61 L312.25,93.57 L313.88,92.53 L315.51,91.50 L317.14,90.47 L318.77,89.43 L320.40,88.40 L322.03,87.37 L323.66,86.34 L325.29,85.30 L326.92,84.27 L328.55,83.24 L330.19,82.20 L331.82,81.16 L333.45,80.12 L335.08,79.09 L336.71,78.05 L338.34,77.02 L339.97,75.99 L341.60,74.96 L343.23,73.95 L344.86,72.94 L346.49,71.94 L348.12,70.95 L349.75,69.97 L351.38,69.00 L353.01,68.05 L354.64,67.11 L356.27,66.19 L357.90,65.28 L359.53,64.40 L361.16,63.53 L362.79,62.68 L364.42,61.86 L366.05,61.06 L367.68,60.28 L369.31,59.53 L370.94,58.81 L372.57,58.11 L374.20,57.45 L375.83,56.81 L377.46,56.21 L379.09,55.64 L380.72,55.10 L382.35,54.60 L383.98,54.13 L385.61,53.71 L387.24,53.32 L388.87,52.97 L390.50,52.66 L392.13,52.40 L393.76,52.18 L395.39,52.00" stroke="#7eed10"/>
<path d="M101.95,307.17 L103.58,306.06 L105.21,304.93 L106.84,303.79 L108.47,302.64 L110.10,301.47 L111.73,300.28 L113.36,299.08 L114.99,297.86 L116.62,296.63 L118.25,295.38 L119.88,294.11 L121.51,292.82 L123.14,291.51 L124.77,290.18 L126.40,288.83 L128.03,287.46 L129.66,286.07 L131.29,284.66 L132.92,283.22 L134.56,281.76 L136.19,280.28 L137.82,278.77 L139.45,277.24 L141.08,275.68 L142.71,274.10 L144.34,272.49 L145.97,270.86 L147.60,269.20 L149.23,267.52 L150.86,265.81 L152.49,264.08 L154.12,262.31 L155.75,260.53 L157.38,258.71 L159.01,256.87 L160.64,255.00 L162.27,253.10 L163.90,251.18 L165.53,249.23 L167.16,247.25 L168.79,245.24 L170.42,243.20 L172.05,241.15 L173.68,239.07 L175.31,236.98 L176.94,234.88 L178.57,232.76 L180.20,230.64 L181.83,228.52 L183.46,226.40 L185.09,224.28 L186.72,222.16 L188.35,220.05 L189.98,217.96 L191.61,215.88 L193.24,213.82 L194.87,211.78 L196.50,209.77 L198.13,207.79 L199.76,205.83 L201.40,203.91 L203.03,202.02 L204.66,200.16 L206.29,198.32 L207.92,196.50 L209.55,194.70 L211.18,192.92 L212.81,191.15 L214.44,189.38 L216.07,187.62 L217.70,185.87 L219.33,184.11 L220.96,182.34 L222.59,180.57 L224.22,178.79 L225.85,176.99 L227.48,175.18 L229.11,173.35 L230.74,171.49 L232.37,169.60 L234.00,167.68 L235.63,165.74 L237.26,163.78 L238.89,161.80 L240.52,159.80 L242.15,157.80 L243.78,155.79 L245.41,153.77 L247.04,151.76 L248.67,149.76 L250.30,147.77 L251.93,145.80 L253.56,143.84 L255.19,141.91 L256.82,140.00 L258.45,138.13 L260.08,136.30 L261.71,134.50 L263.34,132.75 L264.97,131.05 L266.61,129.40 L268.24,127.80 L269.87,126.25 L271.50,124.75 L273.13,123.28 L274.76,121.86 L276.39,120.48 L278.02,119.13 L279.65,117.82 L281.28,116.54 L282.91,115.29 L284.54,114.06 L286.17,112.86 L287.80,111.67 L289.43,110.51 L291.06,109.37 L292.69,108.23 L294.32,107.11 L295.95,106.00 L297.58,104.90 L299.21,103.80 L300.84,102.71 L302.47,101.62 L304.10,100.53 L305.73,99.44 L307.36,98.36 L308.99,97.29 L310.62,96.21 L312.25,95.14 L313.88,94.07 L315.51,93.00 L317.14,91.93 L318.77,90.86 L320.40,89.80 L322.03,88.73 L323.66,87.66 L325.29,86.60 L326.92,85.53 L328.55,84.47 L330.19,83.40 L331.82,82.33 L333.45,81.26 L335.08,80.20 L336.71,79.13 L338.34,78.07 L339.97,77.02 L341.60,75.97 L343.23,74.93 L344.86,73.89 L346.49,72.87 L348.12,71.86 L349.75,70.86 L351.38,69.87 L353.01,68.90 L354.64,67.95 L356.27,67.01 L357.90,66.09 L359.53,65.19 L361.16,64.31 L362.79,63.45 L364.42,62.62 L366.05,61.81 L367.68,61.02 L369.31,60.26 L370.94,59.53 L372.57,58.84 L374.20,58.17 L375.83,57.53 L377.46,56.92 L379.09,56.35 L380.72,55.82 L382.35,55.32 L383.98,54.86 L385.61,54.44 L387.24,54.06 L388.87,53.72 L390.50,53.42 L392.13,53.17 L393.76,52.96 L395.39,52.80" stroke="#52ed10"/>
<path d="M101.95,307.21 L103.58,306.11 L105.21,304.99 L106.84,303.86 L108.47,302.71 L110.10,301.55 L111.73,300.38 L113.36,299.19 L114.99,297.98 L116.62,296.76 L118.25,295.52 L119.88,294.26 L121.51,292.99 L123.14,291.69 L124.77,290.38 L126.40,289.04 L128.03,287.69 L129.66,286.31 L131.29,284.92 L132.92,283.50 L134.56,282.05 L136.19,280.59 L137.82,279.10 L139.45,277.58 L141.08,276.04 L142.71,274.48 L144.34,272.89 L145.97,271.28 L147.60,269.64 L149.23,267.98 L150.86,266.29 L152.49,264.57 L154.12,262.83 L155.75,261.05 L157.38,259.26 L159.01,257.43 L160.64,255.58 L162.27,253.70 L163.90,251.79 L165.53,249.85 L167.16,247.88 L168.79,245.89 L170.42,243.86 L172.05,241.82 L173.68,239.76 L175.31,237.67 L176.94,235.58 L178.57,233.48 L180.20,231.37 L181.83,229.25 L183.46,227.14 L185.09,225.03 L186.72,222.93 L188.35,220.83 L189.98,218.75 L191.61,216.68 L193.24,214.64 L194.87,212.61 L196.50,210.61 L198.13,208.64 L199.76,206.71 L201.40,204.80 L203.03,202.93 L204.66,201.09 L206.29,199.28 L207.92,197.48 L209.55,195.71 L211.18,193.95 L212.81,192.21 L214.44,190.47 L216.07,188.74 L217.70,187.01 L219.33,185.29 L220.96,183.55 L222.59,181.82 L224.22,180.07 L225.85,178.31 L227.48,176.53 L229.11,174.73 L230.74,172.91 L232.37,171.07 L234.00,169.19 L235.63,167.29 L237.26,165.37 L238.89,163.43 L240.52,161.48 L242.15,159.51 L243.78,157.54 L245.41,155.57 L247.04,153.60 L248.67,151.64 L250.30,149.69 L251.93,147.75 L253.56,145.82 L255.19,143.92 L256.82,142.05 L258.45,140.20 L260.08,138.39 L261.71,136.62 L263.34,134.89 L264.97,133.20 L266.61,131.56 L268.24,129.97 L269.87,128.42 L271.50,126.92 L273.13,125.45 L274.76,124.03 L276.39,122.64 L278.02,121.28 L279.65,119.95 L281.28,118.66 L282.91,117.39 L284.54,116.14 L286.17,114.91 L287.80,113.71 L289.43,112.52 L291.06,111.35 L292.69,110.19 L294.32,109.04 L295.95,107.90 L297.58,106.77 L299.21,105.64 L300.84,104.51 L302.47,103.39 L304.10,102.27 L305.73,101.15 L307.36,100.03 L308.99,98.92 L310.62,97.81 L312.25,96.70 L313.88,95.60 L315.51,94.49 L317.14,93.39 L318.77,92.29 L320.40,91.19 L322.03,90.09 L323.66,88.99 L325.29,87.89 L326.92,86.80 L328.55,85.70 L330.19,84.60 L331.82,83.50 L333.45,82.40 L335.08,81.31 L336.71,80.22 L338.34,79.13 L339.97,78.05 L341.60,76.97 L343.23,75.91 L344.86,74.85 L346.49,73.81 L348.12,72.77 L349.75,71.75 L351.38,70.75 L353.01,69.76 L354.64,68.78 L356.27,67.83 L357.90,66.89 L359.53,65.98 L361.16,65.09 L362.79,64.22 L364.42,63.37 L366.05,62.55 L367.68,61.76 L369.31,60.99 L370.94,60.26 L372.57,59.56 L374.20,58.88 L375.83,58.24 L377.46,57.64 L379.09,57.07 L380.72,56.54 L382.35,56.04 L383.98,55.58 L385.61,55.17 L387.24,54.80 L388.87,54.47 L390.50,54.18 L392.13,53.94 L393.76,53.75 L395.39,53.60" stroke="#42ed10"/>
<path d="M101.95,307.25 L103.58,306.16 L105.21,305.05 L106.84,303.92 L108.47,302.79 L110.10,301.64 L111.73,300.47 L113.36,299.29 L114.99,298.10 L116.62,296.89 L118.25,295.66 L119.88,294.42 L121.51,293.16 L123.14,291.88 L124.77,290.58 L126.40,289.26 L128.03,287.92 L129.66,286.56 L131.29,285.18 L132.92,283.77 L134.56,282.35 L136.19,280.90 L137.82,279.43 L139.45,277.93 L141.08,276.41 L142.71,274.86 L144.34,273.30 L145.97,271.70 L147.60,270.08 L149.23,268.43 L150.86,266.76 L152.49,265.06 L154.12,263.34 L155.75,261.58 L157.38,259.80 L159.01,257.99 L160.64,256.16 L162.27,254.29 L163.90,252.40 L165.53,250.47 L167.16,248.52 L168.79,246.53 L170.42,244.52 L172.05,242.49 L173.68,240.44 L175.31,238.37 L176.94,236.28 L178.57,234.19 L180.20,232.09 L181.83,229.99 L183.46,227.88 L185.09,225.78 L186.72,223.69 L188.35,221.61 L189.98,219.54 L191.61,217.48 L193.24,215.45 L194.87,213.44 L196.50,211.46 L198.13,209.50 L199.76,207.58 L201.40,205.70 L203.03,203.85 L204.66,202.03 L206.29,200.24 L207.92,198.47 L209.55,196.72 L211.18,194.98 L212.81,193.26 L214.44,191.56 L216.07,189.86 L217.70,188.16 L219.33,186.46 L220.96,184.76 L222.59,183.06 L224.22,181.35 L225.85,179.62 L227.48,177.88 L229.11,176.12 L230.74,174.34 L232.37,172.53 L234.00,170.70 L235.63,168.84 L237.26,166.96 L238.89,165.06 L240.52,163.15 L242.15,161.23 L243.78,159.30 L245.41,157.37 L247.04,155.44 L248.67,153.52 L250.30,151.60 L251.93,149.70 L253.56,147.81 L255.19,145.94 L256.82,144.09 L258.45,142.28 L260.08,140.49 L261.71,138.74 L263.34,137.02 L264.97,135.35 L266.61,133.72 L268.24,132.14 L269.87,130.60 L271.50,129.09 L273.13,127.62 L274.76,126.19 L276.39,124.79 L278.02,123.43 L279.65,122.09 L281.28,120.77 L282.91,119.49 L284.54,118.22 L286.17,116.97 L287.80,115.75 L289.43,114.53 L291.06,113.33 L292.69,112.15 L294.32,110.97 L295.95,109.80 L297.58,108.63 L299.21,107.47 L300.84,106.31 L302.47,105.16 L304.10,104.00 L305.73,102.85 L307.36,101.70 L308.99,100.56 L310.62,99.41 L312.25,98.27 L313.88,97.13 L315.51,95.99 L317.14,94.85 L318.77,93.72 L320.40,92.58 L322.03,91.45 L323.66,90.32 L325.29,89.19 L326.92,88.06 L328.55,86.93 L330.19,85.80 L331.82,84.67 L333.45,83.54 L335.08,82.42 L336.71,81.30 L338.34,80.19 L339.97,79.08 L341.60,77.98 L343.23,76.89 L344.86,75.81 L346.49,74.74 L348.12,73.69 L349.75,72.65 L351.38,71.62 L353.01,70.61 L354.64,69.62 L356.27,68.65 L357.90,67.70 L359.53,66.77 L361.16,65.86 L362.79,64.98 L364.42,64.13 L366.05,63.30 L367.68,62.50 L369.31,61.73 L370.94,60.98 L372.57,60.28 L374.20,59.60 L375.83,58.96 L377.46,58.35 L379.09,57.78 L380.72,57.25 L382.35,56.76 L383.98,56.31 L385.61,55.90 L387.24,55.54 L388.87,55.21 L390.50,54.94 L392.13,54.71 L393.76,54.53 L395.39,54.40" stroke="#31ed10"/>
<path d="M101.95,307.30 L103.58,306.20 L105.21,305.10 L106.84,303.99 L108.47,302.86 L110.10,301.72 L111.73,300.57 L113.36,299.40 L114.99,298.22 L116.62,297.02 L118.25,295.80 L119.88,294.57 L121.51,293.32 L123.14,292.06 L124.77,290.77 L126.40,289.47 L128.03,288.15 L129.66,286.80 L131.29,285.44 L132.92,284.05 L134.56,282.64 L136.19,281.21 L137.82,279.76 L139.45,278.28 L141.08,276.77 L142.71,275.25 L144.34,273.70 L145.97,272.12 L147.60,270.52 L149.23,268.89 L150.86,267.24 L152.49,265.56 L154.12,263.85 L155.75,262.11 L157.38,260.35 L159.01,258.55 L160.64,256.73 L162.27,254.88 L163.90,253.00 L165.53,251.09 L167.16,249.15 L168.79,247.18 L170.42,245.18 L172.05,243.16 L173.68,241.12 L175.31,239.06 L176.94,236.99 L178.57,234.90 L180.20,232.81 L181.83,230.72 L183.46,228.63 L185.09,226.54 L186.72,224.46 L188.35,222.38 L189.98,220.33 L191.61,218.29 L193.24,216.27 L194.87,214.27 L196.50,212.30 L198.13,210.36 L199.76,208.46 L201.40,206.60 L203.03,204.76 L204.66,202.97 L206.29,201.19 L207.92,199.45 L209.55,197.72 L211.18,196.02 L212.81,194.32 L214.44,192.64 L216.07,190.97 L217.70,189.31 L219.33,187.64 L220.96,185.98 L222.59,184.30 L224.22,182.63 L225.85,180.94 L227.48,179.23 L229.11,177.51 L230.74,175.77 L232.37,174.00 L234.00,172.21 L235.63,170.39 L237.26,168.55 L238.89,166.69 L240.52,164.82 L242.15,162.94 L243.78,161.06 L245.41,159.17 L247.04,157.28 L248.67,155.39 L250.30,153.51 L251.93,151.64 L253.56,149.79 L255.19,147.95 L256.82,146.14 L258.45,144.35 L260.08,142.59 L261.71,140.85 L263.34,139.16 L264.97,137.50 L266.61,135.88 L268.24,134.31 L269.87,132.77 L271.50,131.26 L273.13,129.80 L274.76,128.36 L276.39,126.95 L278.02,125.57 L279.65,124.22 L281.28,122.89 L282.91,121.59 L284.54,120.30 L286.17,119.03 L287.80,117.78 L289.43,116.54 L291.06,115.32 L292.69,114.10 L294.32,112.90 L295.95,111.70 L297.58,110.50 L299.21,109.31 L300.84,108.12 L302.47,106.93 L304.10,105.74 L305.73,104.56 L307.36,103.37 L308.99,102.19 L310.62,101.01 L312.25,99.84 L313.88,98.66 L315.51,97.49 L317.14,96.32 L318.77,95.15 L320.40,93.98 L322.03,92.81 L323.66,91.65 L325.29,90.48 L326.92,89.32 L328.55,88.16 L330.19,87.00 L331.82,85.84 L333.45,84.69 L335.08,83.53 L336.71,82.39 L338.34,81.24 L339.97,80.11 L341.60,78.99 L343.23,77.87 L344.86,76.77 L346.49,75.68 L348.12,74.60 L349.75,73.54 L351.38,72.49 L353.01,71.47 L354.64,70.46 L356.27,69.47 L357.90,68.51 L359.53,67.56 L361.16,66.64 L362.79,65.75 L364.42,64.88 L366.05,64.04 L367.68,63.24 L369.31,62.46 L370.94,61.71 L372.57,61.00 L374.20,60.32 L375.83,59.67 L377.46,59.07 L379.09,58.50 L380.72,57.97 L382.35,57.48 L383.98,57.04 L385.61,56.63 L387.24,56.27 L388.87,55.96 L390.50,55.70 L392.13,55.48 L393.76,55.32 L395.39,55.20" stroke="#16ed10"/>
<path d="M101.95,307.34 L103.58,306.25 L105.21,305.16 L106.84,304.05 L108.47,302.93 L110.10,301.80 L111.73,300.66 L113.36,299.50 L114.99,298.33 L116.62,297.15 L118.25,295.95 L119.88,294.73 L121.51,293.50 L123.14,292.24 L124.77,290.97 L126.40,289.69 L128.03,288.38 L129.66,287.05 L131.29,285.70 L132.92,284.33 L134.56,282.94 L136.19,281.52 L137.82,280.08 L139.45,278.62 L141.08,277.13 L142.71,275.62 L144.34,274.08 L145.97,272.52 L147.60,270.93 L149.23,269.32 L150.86,267.68 L152.49,266.02 L154.12,264.32 L155.75,262.61 L157.38,260.86 L159.01,259.09 L160.64,257.28 L162.27,255.45 L163.90,253.59 L165.53,251.71 L167.16,249.79 L168.79,247.84 L170.42,245.87 L172.05,243.87 L173.68,241.85 L175.31,239.82 L176.94,237.77 L178.57,235.71 L180.20,233.64 L181.83,231.57 L183.46,229.49 L185.09,227.42 L186.72,225.35 L188.35,223.29 L189.98,221.24 L191.61,219.20 L193.24,217.18 L194.87,215.19 L196.50,213.21 L198.13,211.26 L199.76,209.34 L201.40,207.45 L203.03,205.59 L204.66,203.76 L206.29,201.96 L207.92,200.18 L209.55,198.43 L211.18,196.69 L212.81,194.98 L214.44,193.29 L216.07,191.60 L217.70,189.94 L219.33,188.28 L220.96,186.64 L222.59,185.00 L224.22,183.37 L225.85,181.75 L227.48,180.13 L229.11,178.51 L230.74,176.88 L232.37,175.26 L234.00,173.63 L235.63,171.99 L237.26,170.36 L238.89,168.72 L240.52,167.09 L242.15,165.45 L243.78,163.82 L245.41,162.19 L247.04,160.57 L248.67,158.96 L250.30,157.35 L251.93,155.76 L253.56,154.17 L255.19,152.60 L256.82,151.04 L258.45,149.50 L260.08,147.97 L261.71,146.46 L263.34,144.97 L264.97,143.50 L266.61,142.05 L268.24,140.62 L269.87,139.21 L271.50,137.83 L273.13,136.46 L274.76,135.11 L276.39,133.78 L278.02,132.47 L279.65,131.17 L281.28,129.89 L282.91,128.63 L284.54,127.38 L286.17,126.15 L287.80,124.93 L289.43,123.73 L291.06,122.54 L292.69,121.36 L294.32,120.19 L295.95,119.04 L297.58,117.90 L299.21,116.77 L300.84,115.65 L302.47,114.54 L304.10,113.43 L305.73,112.34 L307.36,111.25 L308.99,110.17 L310.62,109.09 L312.25,108.02 L313.88,106.95 L315.51,105.88 L317.14,104.82 L318.77,103.76 L320.40,102.70 L322.03,101.64 L323.66,100.57 L325.29,99.51 L326.92,98.44 L328.55,97.37 L330.19,96.30 L331.82,95.22 L333.45,94.14 L335.08,93.06 L336.71,91.97 L338.34,90.88 L339.97,89.80 L341.60,88.72 L343.23,87.64 L344.86,86.56 L346.49,85.50 L348.12,84.43 L349.75,83.38 L351.38,82.34 L353.01,81.31 L354.64,80.28 L356.27,79.28 L357.90,78.28 L359.53,77.31 L361.16,76.34 L362.79,75.40 L364.42,74.48 L366.05,73.57 L367.68,72.69 L369.31,71.83 L370.94,70.99 L372.57,70.18 L374.20,69.39 L375.83,68.63 L377.46,67.90 L379.09,67.20 L380.72,66.54 L382.35,65.90 L383.98,65.29 L385.61,64.72 L387.24,64.19 L388.87,63.69 L390.50,63.24 L392.13,62.82 L393.76,62.44 L395.39,62.10" stroke="#10ed26"/>
<path d="M101.95,307.38 L103.58,306.30 L105.21,305.21 L106.84,304.11 L108.47,303.01 L110.10,301.89 L111.73,300.75 L113.36,299.61 L114.99,298.45 L116.62,297.28 L118.25,296.09 L119.88,294.88 L121.51,293.66 L123.14,292.43 L124.77,291.17 L126.40,289.90 L128.03,288.61 L129.66,287.29 L131.29,285.96 L132.92,284.61 L134.56,283.23 L136.19,281.83 L137.82,280.41 L139.45,278.96 L141.08,277.49 L142.71,276.00 L144.34,274.48 L145.97,272.94 L147.60,271.37 L149.23,269.78 L150.86,268.16 L152.49,266.51 L154.12,264.84 L155.75,263.13 L157.38,261.41 L159.01,259.65 L160.64,257.86 L162.27,256.05 L163.90,254.20 L165.53,252.33 L167.16,250.42 L168.79,248.49 L170.42,246.53 L172.05,244.54 L173.68,242.53 L175.31,240.51 L176.94,238.47 L178.57,236.42 L180.20,234.36 L181.83,232.30 L183.46,230.24 L185.09,228.17 L186.72,226.11 L188.35,224.06 L189.98,222.03 L191.61,220.00 L193.24,218.00 L194.87,216.01 L196.50,214.05 L198.13,212.12 L199.76,210.22 L201.40,208.35 L203.03,206.51 L204.66,204.70 L206.29,202.92 L207.92,201.17 L209.55,199.44 L211.18,197.73 L212.81,196.04 L214.44,194.36 L216.07,192.71 L217.70,191.06 L219.33,189.43 L220.96,187.80 L222.59,186.19 L224.22,184.58 L225.85,182.97 L227.48,181.36 L229.11,179.75 L230.74,178.13 L232.37,176.51 L234.00,174.89 L235.63,173.26 L237.26,171.62 L238.89,169.98 L240.52,168.34 L242.15,166.70 L243.78,165.05 L245.41,163.42 L247.04,161.78 L248.67,160.15 L250.30,158.53 L251.93,156.92 L253.56,155.32 L255.19,153.73 L256.82,152.15 L258.45,150.58 L260.08,149.03 L261.71,147.50 L263.34,145.99 L264.97,144.50 L266.61,143.03 L268.24,141.58 L269.87,140.15 L271.50,138.74 L273.13,137.35 L274.76,135.98 L276.39,134.63 L278.02,133.30 L279.65,131.98 L281.28,130.68 L282.91,129.40 L284.54,128.13 L286.17,126.88 L287.80,125.65 L289.43,124.42 L291.06,123.21 L292.69,122.02 L294.32,120.83 L295.95,119.66 L297.58,118.50 L299.21,117.35 L300.84,116.21 L302.47,115.08 L304.10,113.96 L305.73,112.85 L307.36,111.74 L308.99,110.64 L310.62,109.55 L312.25,108.47 L313.88,107.38 L315.51,106.31 L317.14,105.23 L318.77,104.16 L320.40,103.09 L322.03,102.03 L323.66,100.96 L325.29,99.90 L326.92,98.83 L328.55,97.77 L330.19,96.70 L331.82,95.63 L333.45,94.56 L335.08,93.49 L336.71,92.42 L338.34,91.35 L339.97,90.28 L341.60,89.22 L343.23,88.16 L344.86,87.11 L346.49,86.07 L348.12,85.03 L349.75,84.00 L351.38,82.98 L353.01,81.97 L354.64,80.98 L356.27,79.99 L357.90,79.02 L359.53,78.07 L361.16,77.12 L362.79,76.20 L364.42,75.29 L366.05,74.40 L367.68,73.54 L369.31,72.69 L370.94,71.86 L372.57,71.06 L374.20,70.28 L375.83,69.52 L377.46,68.79 L379.09,68.08 L380.72,67.40 L382.35,66.76 L383.98,66.14 L385.61,65.55 L387.24,64.99 L388.87,64.46 L390.50,63.97 L392.13,63.51 L393.76,63.09 L395.39,62.70" stroke="#10ed4f"/>
<path d="M101.95,307.42 L103.58,306.35 L105.21,305.27 L106.84,304.18 L108.47,303.08 L110.10,301.97 L111.73,300.85 L113.36,299.71 L114.99,298.57 L116.62,297.41 L118.25,296.23 L119.88,295.04 L121.51,293.83 L123.14,292.61 L124.77,291.37 L126.40,290.11 L128.03,288.83 L129.66,287.54 L131.29,286.22 L132.92,284.88 L134.56,283.52 L136.19,282.14 L137.82,280.74 L139.45,279.31 L141.08,277.86 L142.71,276.38 L144.34,274.89 L145.97,273.36 L147.60,271.81 L149.23,270.23 L150.86,268.63 L152.49,267.00 L154.12,265.35 L155.75,263.66 L157.38,261.95 L159.01,260.21 L160.64,258.44 L162.27,256.64 L163.90,254.81 L165.53,252.95 L167.16,251.06 L168.79,249.14 L170.42,247.19 L172.05,245.21 L173.68,243.22 L175.31,241.20 L176.94,239.17 L178.57,237.13 L180.20,235.08 L181.83,233.03 L183.46,230.98 L185.09,228.93 L186.72,226.88 L188.35,224.84 L189.98,222.81 L191.61,220.80 L193.24,218.81 L194.87,216.84 L196.50,214.89 L198.13,212.98 L199.76,211.09 L201.40,209.24 L203.03,207.42 L204.66,205.64 L206.29,203.88 L207.92,202.15 L209.55,200.44 L211.18,198.75 L212.81,197.09 L214.44,195.44 L216.07,193.80 L217.70,192.18 L219.33,190.57 L220.96,188.97 L222.59,187.37 L224.22,185.77 L225.85,184.18 L227.48,182.58 L229.11,180.99 L230.74,179.38 L232.37,177.77 L234.00,176.15 L235.63,174.52 L237.26,172.88 L238.89,171.24 L240.52,169.60 L242.15,167.95 L243.78,166.30 L245.41,164.65 L247.04,163.00 L248.67,161.36 L250.30,159.72 L251.93,158.09 L253.56,156.47 L255.19,154.86 L256.82,153.26 L258.45,151.68 L260.08,150.11 L261.71,148.55 L263.34,147.02 L264.97,145.50 L266.61,144.00 L268.24,142.53 L269.87,141.07 L271.50,139.64 L273.13,138.22 L274.76,136.83 L276.39,135.45 L278.02,134.09 L279.65,132.75 L281.28,131.42 L282.91,130.11 L284.54,128.82 L286.17,127.54 L287.80,126.28 L289.43,125.03 L291.06,123.80 L292.69,122.58 L294.32,121.37 L295.95,120.18 L297.58,119.00 L299.21,117.83 L300.84,116.67 L302.47,115.53 L304.10,114.39 L305.73,113.27 L307.36,112.15 L308.99,111.04 L310.62,109.94 L312.25,108.84 L313.88,107.75 L315.51,106.67 L317.14,105.60 L318.77,104.52 L320.40,103.46 L322.03,102.39 L323.66,101.33 L325.29,100.27 L326.92,99.21 L328.55,98.16 L330.19,97.10 L331.82,96.04 L333.45,94.99 L335.08,93.93 L336.71,92.88 L338.34,91.83 L339.97,90.79 L341.60,89.75 L343.23,88.71 L344.86,87.68 L346.49,86.66 L348.12,85.65 L349.75,84.64 L351.38,83.64 L353.01,82.66 L354.64,81.68 L356.27,80.72 L357.90,79.77 L359.53,78.83 L361.16,77.91 L362.79,77.00 L364.42,76.11 L366.05,75.23 L367.68,74.37 L369.31,73.53 L370.94,72.71 L372.57,71.91 L374.20,71.13 L375.83,70.37 L377.46,69.63 L379.09,68.91 L380.72,68.22 L382.35,67.56 L383.98,66.91 L385.61,66.30 L387.24,65.71 L388.87,65.15 L390.50,64.62 L392.13,64.11 L393.76,63.64 L395.39,63.20" stroke="#10ed77"/>
<path d="M101.95,307.46 L103.58,306.40 L105.21,305.33 L106.84,304.25 L108.47,303.16 L110.10,302.06 L111.73,300.95 L113.36,299.82 L114.99,298.69 L116.62,297.54 L118.25,296.37 L119.88,295.19 L121.51,294.00 L123.14,292.79 L124.77,291.56 L126.40,290.32 L128.03,289.06 L129.66,287.78 L131.29,286.48 L132.92,285.16 L134.56,283.82 L136.19,282.46 L137.82,281.07 L139.45,279.67 L141.08,278.24 L142.71,276.79 L144.34,275.31 L145.97,273.81 L147.60,272.28 L149.23,270.73 L150.86,269.15 L152.49,267.54 L154.12,265.90 L155.75,264.24 L157.38,262.54 L159.01,260.81 L160.64,259.05 L162.27,257.26 L163.90,255.44 L165.53,253.58 L167.16,251.69 L168.79,249.77 L170.42,247.82 L172.05,245.84 L173.68,243.83 L175.31,241.81 L176.94,239.77 L178.57,237.73 L180.20,235.67 L181.83,233.62 L183.46,231.56 L185.09,229.51 L186.72,227.47 L188.35,225.44 L189.98,223.43 L191.61,221.45 L193.24,219.48 L194.87,217.55 L196.50,215.65 L198.13,213.79 L199.76,211.97 L201.40,210.19 L203.03,208.46 L204.66,206.76 L206.29,205.09 L207.92,203.45 L209.55,201.83 L211.18,200.23 L212.81,198.65 L214.44,197.07 L216.07,195.50 L217.70,193.93 L219.33,192.35 L220.96,190.76 L222.59,189.17 L224.22,187.55 L225.85,185.91 L227.48,184.24 L229.11,182.54 L230.74,180.81 L232.37,179.03 L234.00,177.21 L235.63,175.35 L237.26,173.45 L238.89,171.52 L240.52,169.57 L242.15,167.60 L243.78,165.61 L245.41,163.60 L247.04,161.60 L248.67,159.59 L250.30,157.58 L251.93,155.59 L253.56,153.60 L255.19,151.64 L256.82,149.69 L258.45,147.78 L260.08,145.90 L261.71,144.05 L263.34,142.25 L264.97,140.50 L266.61,138.80 L268.24,137.15 L269.87,135.54 L271.50,133.98 L273.13,132.46 L274.76,130.99 L276.39,129.55 L278.02,128.14 L279.65,126.77 L281.28,125.43 L282.91,124.11 L284.54,122.82 L286.17,121.56 L287.80,120.31 L289.43,119.08 L291.06,117.86 L292.69,116.66 L294.32,115.47 L295.95,114.28 L297.58,113.10 L299.21,111.92 L300.84,110.75 L302.47,109.57 L304.10,108.40 L305.73,107.24 L307.36,106.07 L308.99,104.91 L310.62,103.75 L312.25,102.60 L313.88,101.45 L315.51,100.30 L317.14,99.16 L318.77,98.03 L320.40,96.89 L322.03,95.76 L323.66,94.64 L325.29,93.52 L326.92,92.41 L328.55,91.30 L330.19,90.20 L331.82,89.10 L333.45,88.01 L335.08,86.93 L336.71,85.85 L338.34,84.79 L339.97,83.73 L341.60,82.68 L343.23,81.64 L344.86,80.61 L346.49,79.60 L348.12,78.59 L349.75,77.60 L351.38,76.62 L353.01,75.66 L354.64,74.71 L356.27,73.77 L357.90,72.85 L359.53,71.95 L361.16,71.07 L362.79,70.20 L364.42,69.35 L366.05,68.52 L367.68,67.71 L369.31,66.92 L370.94,66.16 L372.57,65.41 L374.20,64.69 L375.83,63.98 L377.46,63.31 L379.09,62.65 L380.72,62.03 L382.35,61.42 L383.98,60.85 L385.61,60.30 L387.24,59.78 L388.87,59.28 L390.50,58.82 L392.13,58.38 L393.76,57.98 L395.39,57.60" stroke="#10ed93"/>
<path d="M101.95,307.50 L103.58,306.45 L105.21,305.39 L106.84,304.32 L108.47,303.23 L110.10,302.14 L111.73,301.04 L113.36,299.93 L114.99,298.80 L116.62,297.67 L118.25,296.51 L119.88,295.35 L121.51,294.17 L123.14,292.97 L124.77,291.76 L126.40,290.53 L128.03,289.29 L129.66,288.02 L131.29,286.74 L132.92,285.43 L134.56,284.11 L136.19,282.77 L137.82,281.40 L139.45,280.02 L141.08,278.60 L142.71,277.17 L144.34,275.71 L145.97,274.23 L147.60,272.72 L149.23,271.18 L150.86,269.62 L152.49,268.03 L154.12,266.41 L155.75,264.76 L157.38,263.08 L159.01,261.37 L160.64,259.63 L162.27,257.85 L163.90,256.05 L165.53,254.20 L167.16,252.33 L168.79,250.42 L170.42,248.48 L172.05,246.51 L173.68,244.52 L175.31,242.51 L176.94,240.49 L178.57,238.45 L180.20,236.41 L181.83,234.36 L183.46,232.32 L185.09,230.28 L186.72,228.25 L188.35,226.24 L189.98,224.24 L191.61,222.26 L193.24,220.31 L194.87,218.39 L196.50,216.50 L198.13,214.65 L199.76,212.85 L201.40,211.08 L203.03,209.36 L204.66,207.68 L206.29,206.02 L207.92,204.40 L209.55,202.80 L211.18,201.22 L212.81,199.65 L214.44,198.09 L216.07,196.53 L217.70,194.98 L219.33,193.42 L220.96,191.86 L222.59,190.28 L224.22,188.69 L225.85,187.07 L227.48,185.42 L229.11,183.75 L230.74,182.04 L232.37,180.29 L234.00,178.49 L235.63,176.66 L237.26,174.79 L238.89,172.89 L240.52,170.96 L242.15,169.01 L243.78,167.04 L245.41,165.07 L247.04,163.08 L248.67,161.09 L250.30,159.10 L251.93,157.12 L253.56,155.14 L255.19,153.18 L256.82,151.25 L258.45,149.33 L260.08,147.44 L261.71,145.59 L263.34,143.77 L264.97,142.00 L266.61,140.27 L268.24,138.59 L269.87,136.95 L271.50,135.35 L273.13,133.79 L274.76,132.27 L276.39,130.78 L278.02,129.33 L279.65,127.90 L281.28,126.51 L282.91,125.15 L284.54,123.81 L286.17,122.49 L287.80,121.20 L289.43,119.93 L291.06,118.67 L292.69,117.43 L294.32,116.21 L295.95,115.00 L297.58,113.80 L299.21,112.61 L300.84,111.43 L302.47,110.25 L304.10,109.08 L305.73,107.92 L307.36,106.77 L308.99,105.63 L310.62,104.49 L312.25,103.35 L313.88,102.23 L315.51,101.10 L317.14,99.99 L318.77,98.88 L320.40,97.77 L322.03,96.67 L323.66,95.57 L325.29,94.47 L326.92,93.38 L328.55,92.29 L330.19,91.20 L331.82,90.11 L333.45,89.03 L335.08,87.95 L336.71,86.88 L338.34,85.81 L339.97,84.75 L341.60,83.70 L343.23,82.65 L344.86,81.61 L346.49,80.58 L348.12,79.56 L349.75,78.56 L351.38,77.56 L353.01,76.58 L354.64,75.61 L356.27,74.66 L357.90,73.72 L359.53,72.79 L361.16,71.89 L362.79,71.00 L364.42,70.13 L366.05,69.28 L367.68,68.45 L369.31,67.64 L370.94,66.85 L372.57,66.09 L374.20,65.34 L375.83,64.63 L377.46,63.93 L379.09,63.27 L380.72,62.63 L382.35,62.01 L383.98,61.43 L385.61,60.87 L387.24,60.35 L388.87,59.85 L390.50,59.39 L392.13,58.96 L393.76,58.56 L395.39,58.20" stroke="#10edae"/>
<path d="M101.95,307.55 L103.58,306.50 L105.21,305.44 L106.84,304.38 L108.47,303.31 L110.10,302.23 L111.73,301.14 L113.36,300.03 L114.99,298.92 L116.62,297.79 L118.25,296.66 L119.88,295.50 L121.51,294.34 L123.14,293.16 L124.77,291.96 L126.40,290.75 L128.03,289.51 L129.66,288.27 L131.29,287.00 L132.92,285.71 L134.56,284.41 L136.19,283.08 L137.82,281.73 L139.45,280.36 L141.08,278.97 L142.71,277.55 L144.34,276.11 L145.97,274.64 L147.60,273.15 L149.23,271.63 L150.86,270.08 L152.49,268.51 L154.12,266.91 L155.75,265.27 L157.38,263.61 L159.01,261.92 L160.64,260.19 L162.27,258.44 L163.90,256.65 L165.53,254.82 L167.16,252.96 L168.79,251.07 L170.42,249.15 L172.05,247.20 L173.68,245.22 L175.31,243.23 L176.94,241.22 L178.57,239.20 L180.20,237.17 L181.83,235.14 L183.46,233.11 L185.09,231.09 L186.72,229.07 L188.35,227.06 L189.98,225.08 L191.61,223.11 L193.24,221.17 L194.87,219.25 L196.50,217.37 L198.13,215.53 L199.76,213.72 L201.40,211.96 L203.03,210.24 L204.66,208.56 L206.29,206.90 L207.92,205.28 L209.55,203.68 L211.18,202.10 L212.81,200.54 L214.44,198.99 L216.07,197.44 L217.70,195.90 L219.33,194.36 L220.96,192.82 L222.59,191.27 L224.22,189.70 L225.85,188.12 L227.48,186.52 L229.11,184.89 L230.74,183.23 L232.37,181.54 L234.00,179.82 L235.63,178.06 L237.26,176.27 L238.89,174.46 L240.52,172.62 L242.15,170.76 L243.78,168.88 L245.41,166.99 L247.04,165.10 L248.67,163.19 L250.30,161.28 L251.93,159.37 L253.56,157.47 L255.19,155.57 L256.82,153.68 L258.45,151.80 L260.08,149.94 L261.71,148.10 L263.34,146.29 L264.97,144.50 L266.61,142.74 L268.24,141.01 L269.87,139.31 L271.50,137.64 L273.13,136.00 L274.76,134.38 L276.39,132.80 L278.02,131.24 L279.65,129.71 L281.28,128.20 L282.91,126.72 L284.54,125.26 L286.17,123.84 L287.80,122.43 L289.43,121.05 L291.06,119.69 L292.69,118.36 L294.32,117.05 L295.95,115.76 L297.58,114.50 L299.21,113.26 L300.84,112.03 L302.47,110.83 L304.10,109.65 L305.73,108.48 L307.36,107.33 L308.99,106.19 L310.62,105.07 L312.25,103.96 L313.88,102.86 L315.51,101.77 L317.14,100.68 L318.77,99.61 L320.40,98.54 L322.03,97.48 L323.66,96.42 L325.29,95.36 L326.92,94.31 L328.55,93.26 L330.19,92.20 L331.82,91.14 L333.45,90.09 L335.08,89.03 L336.71,87.97 L338.34,86.91 L339.97,85.86 L341.60,84.81 L343.23,83.77 L344.86,82.73 L346.49,81.70 L348.12,80.68 L349.75,79.67 L351.38,78.66 L353.01,77.67 L354.64,76.69 L356.27,75.72 L357.90,74.77 L359.53,73.83 L361.16,72.91 L362.79,72.00 L364.42,71.11 L366.05,70.24 L367.68,69.39 L369.31,68.57 L370.94,67.76 L372.57,66.98 L374.20,66.22 L375.83,65.49 L377.46,64.78 L379.09,64.10 L380.72,63.45 L382.35,62.82 L383.98,62.23 L385.61,61.67 L387.24,61.14 L388.87,60.64 L390.50,60.18 L392.13,59.75 L393.76,59.35 L395.39,59.00" stroke="#10edd1"/>
<path d="M101.95,307.59 L103.58,306.55 L105.21,305.50 L106.84,304.44 L108.47,303.38 L110.10,302.31 L111.73,301.23 L113.36,300.14 L114.99,299.04 L116.62,297.92 L118.25,296.80 L119.88,295.66 L121.51,294.51 L123.14,293.34 L124.77,292.16 L126.40,290.96 L128.03,289.74 L129.66,288.51 L131.29,287.26 L132.92,285.99 L134.56,284.70 L136.19,283.39 L137.82,282.06 L139.45,280.70 L141.08,279.33 L142.71,277.93 L144.34,276.50 L145.97,275.06 L147.60,273.58 L149.23,272.08 L150.86,270.55 L152.49,268.99 L154.12,267.41 L155.75,265.79 L157.38,264.15 L159.01,262.47 L160.64,260.77 L162.27,259.02 L163.90,257.25 L165.53,255.44 L167.16,253.60 L168.79,251.72 L170.42,249.81 L172.05,247.88 L173.68,245.92 L175.31,243.94 L176.94,241.94 L178.57,239.93 L180.20,237.92 L181.83,235.90 L183.46,233.88 L185.09,231.87 L186.72,229.86 L188.35,227.87 L189.98,225.89 L191.61,223.94 L193.24,222.00 L194.87,220.10 L196.50,218.23 L198.13,216.39 L199.76,214.60 L201.40,212.85 L203.03,211.14 L204.66,209.46 L206.29,207.82 L207.92,206.21 L209.55,204.62 L211.18,203.05 L212.81,201.50 L214.44,199.96 L216.07,198.43 L217.70,196.91 L219.33,195.39 L220.96,193.86 L222.59,192.33 L224.22,190.79 L225.85,189.24 L227.48,187.67 L229.11,186.07 L230.74,184.45 L232.37,182.80 L234.00,181.12 L235.63,179.40 L237.26,177.66 L238.89,175.89 L240.52,174.10 L242.15,172.29 L243.78,170.46 L245.41,168.62 L247.04,166.76 L248.67,164.90 L250.30,163.02 L251.93,161.15 L253.56,159.27 L255.19,157.39 L256.82,155.52 L258.45,153.65 L260.08,151.79 L261.71,149.95 L263.34,148.11 L264.97,146.30 L266.61,144.50 L268.24,142.73 L269.87,140.98 L271.50,139.24 L273.13,137.53 L274.76,135.85 L276.39,134.18 L278.02,132.55 L279.65,130.93 L281.28,129.34 L282.91,127.78 L284.54,126.25 L286.17,124.74 L287.80,123.26 L289.43,121.81 L291.06,120.38 L292.69,118.99 L294.32,117.63 L295.95,116.30 L297.58,115.00 L299.21,113.73 L300.84,112.50 L302.47,111.29 L304.10,110.11 L305.73,108.95 L307.36,107.82 L308.99,106.70 L310.62,105.61 L312.25,104.53 L313.88,103.47 L315.51,102.42 L317.14,101.38 L318.77,100.34 L320.40,99.32 L322.03,98.30 L323.66,97.28 L325.29,96.27 L326.92,95.25 L328.55,94.23 L330.19,93.20 L331.82,92.17 L333.45,91.13 L335.08,90.08 L336.71,89.04 L338.34,87.99 L339.97,86.94 L341.60,85.89 L343.23,84.84 L344.86,83.80 L346.49,82.75 L348.12,81.72 L349.75,80.69 L351.38,79.67 L353.01,78.66 L354.64,77.66 L356.27,76.67 L357.90,75.69 L359.53,74.73 L361.16,73.78 L362.79,72.85 L364.42,71.94 L366.05,71.04 L367.68,70.17 L369.31,69.32 L370.94,68.49 L372.57,67.69 L374.20,66.91 L375.83,66.16 L377.46,65.44 L379.09,64.75 L380.72,64.08 L382.35,63.45 L383.98,62.85 L385.61,62.29 L387.24,61.76 L388.87,61.27 L390.50,60.82 L392.13,60.40 L393.76,60.03 L395.39,59.70" stroke="#10e5ed"/>
<path d="M101.95,307.84 L103.58,306.82 L105.21,305.81 L106.84,304.81 L108.47,303.81 L110.10,302.82 L111.73,301.82 L113.36,300.83 L114.99,299.83 L116.62,298.82 L118.25,297.80 L119.88,296.77 L121.51,295.72 L123.14,294.66 L124.77,293.58 L126.40,292.47 L128.03,291.34 L129.66,290.18 L131.29,288.99 L132.92,287.76 L134.56,286.50 L136.19,285.20 L137.82,283.87 L139.45,282.49 L141.08,281.09 L142.71,279.65 L144.34,278.17 L145.97,276.67 L147.60,275.13 L149.23,273.57 L150.86,271.98 L152.49,270.36 L154.12,268.72 L155.75,267.05 L157.38,265.36 L159.01,263.65 L160.64,261.91 L162.27,260.16 L163.90,258.39 L165.53,256.60 L167.16,254.80 L168.79,252.98 L170.42,251.15 L172.05,249.31 L173.68,247.46 L175.31,245.61 L176.94,243.74 L178.57,241.88 L180.20,240.01 L181.83,238.15 L183.46,236.28 L185.09,234.43 L186.72,232.57 L188.35,230.73 L189.98,228.89 L191.61,227.07 L193.24,225.26 L194.87,223.47 L196.50,221.69 L198.13,219.94 L199.76,218.20 L201.40,216.49 L203.03,214.80 L204.66,213.12 L206.29,211.47 L207.92,209.83 L209.55,208.20 L211.18,206.59 L212.81,204.98 L214.44,203.39 L216.07,201.80 L217.70,200.21 L219.33,198.63 L220.96,197.04 L222.59,195.46 L224.22,193.87 L225.85,192.27 L227.48,190.67 L229.11,189.06 L230.74,187.44 L232.37,185.80 L234.00,184.15 L235.63,182.49 L237.26,180.81 L238.89,179.13 L240.52,177.44 L242.15,175.74 L243.78,174.04 L245.41,172.34 L247.04,170.65 L248.67,168.95 L250.30,167.26 L251.93,165.58 L253.56,163.90 L255.19,162.24 L256.82,160.59 L258.45,158.95 L260.08,157.33 L261.71,155.73 L263.34,154.16 L264.97,152.60 L266.61,151.07 L268.24,149.56 L269.87,148.08 L271.50,146.61 L273.13,145.17 L274.76,143.75 L276.39,142.34 L278.02,140.95 L279.65,139.58 L281.28,138.22 L282.91,136.88 L284.54,135.55 L286.17,134.23 L287.80,132.92 L289.43,131.61 L291.06,130.32 L292.69,129.03 L294.32,127.75 L295.95,126.47 L297.58,125.20 L299.21,123.93 L300.84,122.66 L302.47,121.39 L304.10,120.13 L305.73,118.87 L307.36,117.62 L308.99,116.37 L310.62,115.12 L312.25,113.89 L313.88,112.65 L315.51,111.43 L317.14,110.21 L318.77,109.00 L320.40,107.80 L322.03,106.61 L323.66,105.43 L325.29,104.25 L326.92,103.09 L328.55,101.94 L330.19,100.80 L331.82,99.67 L333.45,98.55 L335.08,97.45 L336.71,96.36 L338.34,95.28 L339.97,94.21 L341.60,93.16 L343.23,92.12 L344.86,91.09 L346.49,90.07 L348.12,89.07 L349.75,88.09 L351.38,87.11 L353.01,86.15 L354.64,85.21 L356.27,84.28 L357.90,83.36 L359.53,82.46 L361.16,81.57 L362.79,80.70 L364.42,79.84 L366.05,79.00 L367.68,78.18 L369.31,77.37 L370.94,76.57 L372.57,75.80 L374.20,75.04 L375.83,74.29 L377.46,73.56 L379.09,72.85 L380.72,72.16 L382.35,71.48 L383.98,70.82 L385.61,70.18 L387.24,69.55 L388.87,68.95 L390.50,68.36 L392.13,67.79 L393.76,67.23 L395.39,66.70" stroke="#10c8ed"/>
<path d="M101.95,307.93 L103.58,306.92 L105.21,305.92 L106.84,304.94 L108.47,303.96 L110.10,302.99 L111.73,302.03 L113.36,301.06 L114.99,300.10 L116.62,299.13 L118.25,298.14 L119.88,297.15 L121.51,296.14 L123.14,295.12 L124.77,294.07 L126.40,292.99 L128.03,291.89 L129.66,290.76 L131.29,289.60 L132.92,288.39 L134.56,287.15 L136.19,285.86 L137.82,284.54 L139.45,283.17 L141.08,281.76 L142.71,280.32 L144.34,278.84 L145.97,277.33 L147.60,275.79 L149.23,274.22 L150.86,272.62 L152.49,270.99 L154.12,269.34 L155.75,267.66 L157.38,265.97 L159.01,264.25 L160.64,262.52 L162.27,260.77 L163.90,259.01 L165.53,257.23 L167.16,255.44 L168.79,253.64 L170.42,251.84 L172.05,250.02 L173.68,248.21 L175.31,246.39 L176.94,244.57 L178.57,242.75 L180.20,240.92 L181.83,239.11 L183.46,237.29 L185.09,235.49 L186.72,233.69 L188.35,231.90 L189.98,230.12 L191.61,228.35 L193.24,226.60 L194.87,224.86 L196.50,223.14 L198.13,221.44 L199.76,219.76 L201.40,218.10 L203.03,216.46 L204.66,214.83 L206.29,213.23 L207.92,211.63 L209.55,210.05 L211.18,208.48 L212.81,206.91 L214.44,205.35 L216.07,203.80 L217.70,202.24 L219.33,200.69 L220.96,199.13 L222.59,197.57 L224.22,196.00 L225.85,194.43 L227.48,192.84 L229.11,191.24 L230.74,189.63 L232.37,188.00 L234.00,186.35 L235.63,184.69 L237.26,183.02 L238.89,181.33 L240.52,179.64 L242.15,177.95 L243.78,176.25 L245.41,174.56 L247.04,172.87 L248.67,171.18 L250.30,169.51 L251.93,167.85 L253.56,166.21 L255.19,164.58 L256.82,162.98 L258.45,161.41 L260.08,159.86 L261.71,158.34 L263.34,156.85 L264.97,155.40 L266.61,153.99 L268.24,152.61 L269.87,151.27 L271.50,149.96 L273.13,148.68 L274.76,147.43 L276.39,146.21 L278.02,145.00 L279.65,143.82 L281.28,142.65 L282.91,141.51 L284.54,140.37 L286.17,139.25 L287.80,138.13 L289.43,137.02 L291.06,135.92 L292.69,134.82 L294.32,133.71 L295.95,132.61 L297.58,131.50 L299.21,130.38 L300.84,129.26 L302.47,128.13 L304.10,127.00 L305.73,125.87 L307.36,124.74 L308.99,123.61 L310.62,122.47 L312.25,121.35 L313.88,120.22 L315.51,119.10 L317.14,117.99 L318.77,116.89 L320.40,115.80 L322.03,114.71 L323.66,113.64 L325.29,112.58 L326.92,111.54 L328.55,110.51 L330.19,109.50 L331.82,108.51 L333.45,107.53 L335.08,106.57 L336.71,105.63 L338.34,104.71 L339.97,103.80 L341.60,102.90 L343.23,102.02 L344.86,101.16 L346.49,100.30 L348.12,99.47 L349.75,98.64 L351.38,97.82 L353.01,97.02 L354.64,96.22 L356.27,95.44 L357.90,94.67 L359.53,93.90 L361.16,93.15 L362.79,92.40 L364.42,91.66 L366.05,90.93 L367.68,90.20 L369.31,89.48 L370.94,88.76 L372.57,88.05 L374.20,87.34 L375.83,86.64 L377.46,85.94 L379.09,85.25 L380.72,84.55 L382.35,83.86 L383.98,83.16 L385.61,82.47 L387.24,81.78 L388.87,81.09 L390.50,80.39 L392.13,79.70 L393.76,79.00 L395.39,78.30" stroke="#10aaed"/>
<path d="M101.95,308.02 L103.58,307.02 L105.21,306.03 L106.84,305.06 L108.47,304.11 L110.10,303.17 L111.73,302.23 L113.36,301.30 L114.99,300.37 L116.62,299.43 L118.25,298.49 L119.88,297.53 L121.51,296.56 L123.14,295.57 L124.77,294.56 L126.40,293.52 L128.03,292.45 L129.66,291.35 L131.29,290.21 L132.92,289.03 L134.56,287.80 L136.19,286.52 L137.82,285.20 L139.45,283.83 L141.08,282.43 L142.71,280.98 L144.34,279.49 L145.97,277.97 L147.60,276.42 L149.23,274.83 L150.86,273.22 L152.49,271.58 L154.12,269.92 L155.75,268.24 L157.38,266.54 L159.01,264.82 L160.64,263.09 L162.27,261.35 L163.90,259.60 L165.53,257.84 L167.16,256.08 L168.79,254.32 L170.42,252.55 L172.05,250.78 L173.68,249.01 L175.31,247.25 L176.94,245.48 L178.57,243.72 L180.20,241.96 L181.83,240.20 L183.46,238.45 L185.09,236.71 L186.72,234.96 L188.35,233.23 L189.98,231.50 L191.61,229.78 L193.24,228.07 L194.87,226.37 L196.50,224.67 L198.13,222.99 L199.76,221.32 L201.40,219.66 L203.03,218.01 L204.66,216.37 L206.29,214.74 L207.92,213.12 L209.55,211.50 L211.18,209.89 L212.81,208.28 L214.44,206.68 L216.07,205.07 L217.70,203.46 L219.33,201.86 L220.96,200.25 L222.59,198.63 L224.22,197.01 L225.85,195.39 L227.48,193.76 L229.11,192.11 L230.74,190.46 L232.37,188.80 L234.00,187.13 L235.63,185.44 L237.26,183.75 L238.89,182.05 L240.52,180.35 L242.15,178.65 L243.78,176.95 L245.41,175.26 L247.04,173.57 L248.67,171.90 L250.30,170.23 L251.93,168.58 L253.56,166.95 L255.19,165.34 L256.82,163.75 L258.45,162.18 L260.08,160.64 L261.71,159.13 L263.34,157.65 L264.97,156.20 L266.61,154.79 L268.24,153.41 L269.87,152.07 L271.50,150.76 L273.13,149.48 L274.76,148.22 L276.39,146.99 L278.02,145.78 L279.65,144.60 L281.28,143.43 L282.91,142.28 L284.54,141.15 L286.17,140.03 L287.80,138.92 L289.43,137.82 L291.06,136.73 L292.69,135.64 L294.32,134.56 L295.95,133.48 L297.58,132.40 L299.21,131.32 L300.84,130.24 L302.47,129.16 L304.10,128.08 L305.73,127.00 L307.36,125.92 L308.99,124.85 L310.62,123.78 L312.25,122.72 L313.88,121.66 L315.51,120.61 L317.14,119.56 L318.77,118.53 L320.40,117.50 L322.03,116.49 L323.66,115.49 L325.29,114.49 L326.92,113.52 L328.55,112.55 L330.19,111.60 L331.82,110.66 L333.45,109.74 L335.08,108.84 L336.71,107.95 L338.34,107.07 L339.97,106.20 L341.60,105.35 L343.23,104.50 L344.86,103.67 L346.49,102.85 L348.12,102.04 L349.75,101.24 L351.38,100.45 L353.01,99.66 L354.64,98.89 L356.27,98.12 L357.90,97.35 L359.53,96.60 L361.16,95.85 L362.79,95.10 L364.42,94.36 L366.05,93.62 L367.68,92.89 L369.31,92.16 L370.94,91.43 L372.57,90.70 L374.20,89.97 L375.83,89.25 L377.46,88.52 L379.09,87.80 L380.72,87.07 L382.35,86.34 L383.98,85.61 L385.61,84.88 L387.24,84.15 L388.87,83.41 L390.50,82.66 L392.13,81.91 L393.76,81.16 L395.39,80.40" stroke="#1093ed"/>
<path d="M101.95,308.12 L103.58,307.11 L105.21,306.13 L106.84,305.18 L108.47,304.25 L110.10,303.33 L111.73,302.43 L113.36,301.53 L114.99,300.63 L116.62,299.74 L118.25,298.83 L119.88,297.92 L121.51,296.99 L123.14,296.04 L124.77,295.07 L126.40,294.06 L128.03,293.03 L129.66,291.95 L131.29,290.83 L132.92,289.67 L134.56,288.45 L136.19,287.18 L137.82,285.85 L139.45,284.48 L141.08,283.06 L142.71,281.59 L144.34,280.09 L145.97,278.55 L147.60,276.98 L149.23,275.37 L150.86,273.74 L152.49,272.09 L154.12,270.42 L155.75,268.73 L157.38,267.03 L159.01,265.32 L160.64,263.60 L162.27,261.87 L163.90,260.15 L165.53,258.43 L167.16,256.72 L168.79,255.02 L170.42,253.32 L172.05,251.63 L173.68,249.95 L175.31,248.28 L176.94,246.60 L178.57,244.93 L180.20,243.27 L181.83,241.60 L183.46,239.93 L185.09,238.25 L186.72,236.58 L188.35,234.90 L189.98,233.21 L191.61,231.51 L193.24,229.81 L194.87,228.09 L196.50,226.37 L198.13,224.63 L199.76,222.88 L201.40,221.11 L203.03,219.33 L204.66,217.54 L206.29,215.74 L207.92,213.93 L209.55,212.10 L211.18,210.27 L212.81,208.44 L214.44,206.60 L216.07,204.75 L217.70,202.91 L219.33,201.06 L220.96,199.21 L222.59,197.37 L224.22,195.53 L225.85,193.69 L227.48,191.86 L229.11,190.03 L230.74,188.21 L232.37,186.40 L234.00,184.60 L235.63,182.81 L237.26,181.03 L238.89,179.27 L240.52,177.52 L242.15,175.78 L243.78,174.05 L245.41,172.33 L247.04,170.63 L248.67,168.95 L250.30,167.28 L251.93,165.62 L253.56,163.99 L255.19,162.36 L256.82,160.76 L258.45,159.17 L260.08,157.60 L261.71,156.05 L263.34,154.51 L264.97,153.00 L266.61,151.51 L268.24,150.03 L269.87,148.57 L271.50,147.13 L273.13,145.71 L274.76,144.30 L276.39,142.91 L278.02,141.53 L279.65,140.16 L281.28,138.81 L282.91,137.47 L284.54,136.14 L286.17,134.82 L287.80,133.51 L289.43,132.21 L291.06,130.91 L292.69,129.63 L294.32,128.34 L295.95,127.07 L297.58,125.80 L299.21,124.53 L300.84,123.27 L302.47,122.02 L304.10,120.76 L305.73,119.52 L307.36,118.28 L308.99,117.05 L310.62,115.82 L312.25,114.60 L313.88,113.39 L315.51,112.19 L317.14,110.99 L318.77,109.81 L320.40,108.63 L322.03,107.47 L323.66,106.31 L325.29,105.17 L326.92,104.03 L328.55,102.91 L330.19,101.80 L331.82,100.70 L333.45,99.62 L335.08,98.54 L336.71,97.48 L338.34,96.44 L339.97,95.40 L341.60,94.38 L343.23,93.37 L344.86,92.37 L346.49,91.39 L348.12,90.42 L349.75,89.46 L351.38,88.52 L353.01,87.59 L354.64,86.68 L356.27,85.77 L357.90,84.88 L359.53,84.01 L361.16,83.15 L362.79,82.30 L364.42,81.47 L366.05,80.65 L367.68,79.84 L369.31,79.05 L370.94,78.27 L372.57,77.51 L374.20,76.76 L375.83,76.03 L377.46,75.31 L379.09,74.61 L380.72,73.92 L382.35,73.25 L383.98,72.59 L385.61,71.94 L387.24,71.31 L388.87,70.70 L390.50,70.10 L392.13,69.52 L393.76,68.95 L395.39,68.40" stroke="#107bed"/>
<path d="M101.95,308.21 L103.58,307.21 L105.21,306.24 L106.84,305.31 L108.47,304.40 L110.10,303.51 L111.73,302.63 L113.36,301.77 L114.99,300.91 L116.62,300.05 L118.25,299.18 L119.88,298.30 L121.51,297.41 L123.14,296.50 L124.77,295.56 L126.40,294.59 L128.03,293.58 L129.66,292.54 L131.29,291.44 L132.92,290.30 L134.56,289.10 L136.19,287.84 L137.82,286.52 L139.45,285.15 L141.08,283.73 L142.71,282.26 L144.34,280.75 L145.97,279.20 L147.60,277.62 L149.23,276.01 L150.86,274.37 L152.49,272.70 L154.12,271.02 L155.75,269.33 L157.38,267.62 L159.01,265.90 L160.64,264.19 L162.27,262.47 L163.90,260.76 L165.53,259.05 L167.16,257.36 L168.79,255.68 L170.42,254.02 L172.05,252.37 L173.68,250.73 L175.31,249.10 L176.94,247.47 L178.57,245.86 L180.20,244.24 L181.83,242.63 L183.46,241.01 L185.09,239.39 L186.72,237.77 L188.35,236.15 L189.98,234.51 L191.61,232.87 L193.24,231.21 L194.87,229.54 L196.50,227.86 L198.13,226.16 L199.76,224.44 L201.40,222.70 L203.03,220.94 L204.66,219.17 L206.29,217.38 L207.92,215.57 L209.55,213.75 L211.18,211.92 L212.81,210.08 L214.44,208.24 L216.07,206.38 L217.70,204.52 L219.33,202.66 L220.96,200.79 L222.59,198.93 L224.22,197.06 L225.85,195.20 L227.48,193.34 L229.11,191.48 L230.74,189.64 L232.37,187.80 L234.00,185.97 L235.63,184.15 L237.26,182.35 L238.89,180.55 L240.52,178.77 L242.15,177.01 L243.78,175.25 L245.41,173.51 L247.04,171.79 L248.67,170.08 L250.30,168.39 L251.93,166.71 L253.56,165.05 L255.19,163.41 L256.82,161.79 L258.45,160.19 L260.08,158.61 L261.71,157.05 L263.34,155.52 L264.97,154.00 L266.61,152.51 L268.24,151.04 L269.87,149.58 L271.50,148.15 L273.13,146.74 L274.76,145.34 L276.39,143.97 L278.02,142.60 L279.65,141.25 L281.28,139.91 L282.91,138.59 L284.54,137.27 L286.17,135.97 L287.80,134.67 L289.43,133.38 L291.06,132.10 L292.69,130.82 L294.32,129.54 L295.95,128.27 L297.58,127.00 L299.21,125.73 L300.84,124.46 L302.47,123.20 L304.10,121.94 L305.73,120.68 L307.36,119.42 L308.99,118.18 L310.62,116.93 L312.25,115.70 L313.88,114.47 L315.51,113.25 L317.14,112.04 L318.77,110.84 L320.40,109.65 L322.03,108.48 L323.66,107.31 L325.29,106.16 L326.92,105.03 L328.55,103.91 L330.19,102.80 L331.82,101.71 L333.45,100.64 L335.08,99.58 L336.71,98.54 L338.34,97.51 L339.97,96.50 L341.60,95.51 L343.23,94.53 L344.86,93.56 L346.49,92.61 L348.12,91.67 L349.75,90.74 L351.38,89.83 L353.01,88.93 L354.64,88.05 L356.27,87.17 L357.90,86.31 L359.53,85.46 L361.16,84.63 L362.79,83.80 L364.42,82.99 L366.05,82.18 L367.68,81.39 L369.31,80.61 L370.94,79.84 L372.57,79.07 L374.20,78.32 L375.83,77.58 L377.46,76.84 L379.09,76.12 L380.72,75.40 L382.35,74.69 L383.98,74.00 L385.61,73.30 L387.24,72.62 L388.87,71.94 L390.50,71.27 L392.13,70.61 L393.76,69.95 L395.39,69.30" stroke="#105bed"/>
<path d="M101.95,308.30 L103.58,307.31 L105.21,306.35 L106.84,305.44 L108.47,304.55 L110.10,303.68 L111.73,302.84 L113.36,302.01 L114.99,301.18 L116.62,300.35 L118.25,299.52 L119.88,298.69 L121.51,297.83 L123.14,296.95 L124.77,296.05 L126.40,295.12 L128.03,294.14 L129.66,293.12 L131.29,292.06 L132.92,290.93 L134.56,289.75 L136.19,288.50 L137.82,287.19 L139.45,285.82 L141.08,284.40 L142.71,282.93 L144.34,281.42 L145.97,279.86 L147.60,278.27 L149.23,276.65 L150.86,275.00 L152.49,273.33 L154.12,271.64 L155.75,269.94 L157.38,268.22 L159.01,266.51 L160.64,264.79 L162.27,263.07 L163.90,261.37 L165.53,259.68 L167.16,258.00 L168.79,256.34 L170.42,254.71 L172.05,253.09 L173.68,251.48 L175.31,249.89 L176.94,248.31 L178.57,246.74 L180.20,245.17 L181.83,243.61 L183.46,242.04 L185.09,240.48 L186.72,238.91 L188.35,237.34 L189.98,235.76 L191.61,234.17 L193.24,232.57 L194.87,230.96 L196.50,229.32 L198.13,227.67 L199.76,226.00 L201.40,224.31 L203.03,222.59 L204.66,220.85 L206.29,219.10 L207.92,217.32 L209.55,215.53 L211.18,213.73 L212.81,211.91 L214.44,210.09 L216.07,208.25 L217.70,206.40 L219.33,204.54 L220.96,202.68 L222.59,200.81 L224.22,198.95 L225.85,197.07 L227.48,195.20 L229.11,193.33 L230.74,191.46 L232.37,189.60 L234.00,187.74 L235.63,185.89 L237.26,184.04 L238.89,182.21 L240.52,180.38 L242.15,178.57 L243.78,176.77 L245.41,174.98 L247.04,173.21 L248.67,171.45 L250.30,169.71 L251.93,167.98 L253.56,166.28 L255.19,164.60 L256.82,162.94 L258.45,161.30 L260.08,159.69 L261.71,158.10 L263.34,156.53 L264.97,155.00 L266.61,153.49 L268.24,152.01 L269.87,150.56 L271.50,149.13 L273.13,147.72 L274.76,146.34 L276.39,144.97 L278.02,143.62 L279.65,142.28 L281.28,140.96 L282.91,139.66 L284.54,138.36 L286.17,137.07 L287.80,135.79 L289.43,134.52 L291.06,133.25 L292.69,131.99 L294.32,130.73 L295.95,129.46 L297.58,128.20 L299.21,126.93 L300.84,125.66 L302.47,124.39 L304.10,123.12 L305.73,121.85 L307.36,120.59 L308.99,119.33 L310.62,118.07 L312.25,116.82 L313.88,115.57 L315.51,114.34 L317.14,113.11 L318.77,111.90 L320.40,110.70 L322.03,109.51 L323.66,108.33 L325.29,107.17 L326.92,106.03 L328.55,104.91 L330.19,103.80 L331.82,102.71 L333.45,101.65 L335.08,100.60 L336.71,99.57 L338.34,98.56 L339.97,97.57 L341.60,96.60 L343.23,95.64 L344.86,94.70 L346.49,93.77 L348.12,92.85 L349.75,91.95 L351.38,91.07 L353.01,90.20 L354.64,89.34 L356.27,88.49 L357.90,87.65 L359.53,86.82 L361.16,86.01 L362.79,85.20 L364.42,84.40 L366.05,83.61 L367.68,82.83 L369.31,82.06 L370.94,81.29 L372.57,80.53 L374.20,79.77 L375.83,79.02 L377.46,78.28 L379.09,77.53 L380.72,76.79 L382.35,76.06 L383.98,75.32 L385.61,74.59 L387.24,73.86 L388.87,73.13 L390.50,72.40 L392.13,71.67 L393.76,70.93 L395.39,70.20" stroke="#103ced"/>
</g>
<g stroke="#4a4a4a" stroke-width="1.2" fill="none">
<rect x="85.7" y="11.5" width="326.0" height="302.0"/>
</g><g stroke="#555" stroke-width="0.8" fill="none">
<line x1="78.5" y1="313.5" x2="85.7" y2="313.5"/>
<line x1="78.5" y1="253.1" x2="85.7" y2="253.1"/>
<line x1="78.5" y1="192.7" x2="85.7" y2="192.7"/>
<line x1="78.5" y1="132.3" x2="85.7" y2="132.3"/>
<line x1="78.5" y1="71.9" x2="85.7" y2="71.9"/>
<line x1="78.5" y1="11.5" x2="85.7" y2="11.5"/>
<line x1="134.6" y1="313.5" x2="134.6" y2="320.5"/>
<line x1="199.8" y1="313.5" x2="199.8" y2="320.5"/>
<line x1="265.0" y1="313.5" x2="265.0" y2="320.5"/>
<line x1="330.2" y1="313.5" x2="330.2" y2="320.5"/>
<line x1="395.4" y1="313.5" x2="395.4" y2="320.5"/>
</g>
<g stroke="#666" stroke-width="2.4" fill="none"><path d="M102.0,403.9 L134.6,389.9 L167.2,371.5 L199.8,357.4 L232.4,349.6 L265.0,348.5 L297.6,353.1 L330.2,358.5 L362.8,364.2 L395.4,370.4"/></g>
<g fill="#666"><circle cx="102.0" cy="403.9" r="4.1"/><circle cx="134.6" cy="389.9" r="4.1"/><circle cx="167.2" cy="371.5" r="4.1"/><circle cx="199.8" cy="357.4" r="4.1"/><circle cx="232.4" cy="349.6" r="4.1"/><circle cx="265.0" cy="348.5" r="4.1"/><circle cx="297.6" cy="353.1" r="4.1"/><circle cx="330.2" cy="358.5" r="4.1"/><circle cx="362.8" cy="364.2" r="4.1"/><circle cx="395.4" cy="370.4" r="4.1"/></g>
<g stroke="#4a4a4a" stroke-width="1.2" fill="none">
<rect x="85.7" y="341.1" width="326.0" height="66.6"/>
</g><g stroke="#555" stroke-width="0.8" fill="none">
<line x1="78.5" y1="407.7" x2="85.7" y2="407.7"/>
<line x1="78.5" y1="378.9" x2="85.7" y2="378.9"/>
<line x1="78.5" y1="350.1" x2="85.7" y2="350.1"/>
<line x1="134.6" y1="407.7" x2="134.6" y2="414.7"/>
<line x1="199.8" y1="407.7" x2="199.8" y2="414.7"/>
<line x1="265.0" y1="407.7" x2="265.0" y2="414.7"/>
<line x1="330.2" y1="407.7" x2="330.2" y2="414.7"/>
<line x1="395.4" y1="407.7" x2="395.4" y2="414.7"/>
</g>
<g font-size="19.4" text-anchor="end" letter-spacing="-0.4">
<text x="72.8" y="321.4">0.0</text>
<text x="72.8" y="261.0">0.2</text>
<text x="72.8" y="200.6">0.4</text>
<text x="72.8" y="140.2">0.6</text>
<text x="72.8" y="79.8">0.8</text>
<text x="72.8" y="19.4">1.0</text>
<text x="72.8" y="416.1">0.00</text>
<text x="72.8" y="387.3">0.03</text>
<text x="72.8" y="358.5">0.06</text>
</g>
<g font-size="19.4" text-anchor="middle">
<text x="134.6" y="439.6">2</text>
<text x="199.8" y="439.6">4</text>
<text x="265.0" y="439.6">6</text>
<text x="330.2" y="439.6">8</text>
<text x="395.4" y="439.6">10</text>
</g>
<text x="249.2" y="465" font-size="24.5" text-anchor="middle">number of apps</text>
<text transform="translate(23.3,162.2) rotate(-90)" font-size="24.5" letter-spacing="-0.22" text-anchor="middle">uniqueness of fingerprint</text>
<text transform="translate(21.0,374.8) rotate(-90)" font-size="24.5" letter-spacing="0.1" text-anchor="middle">deviation</text>
<text x="98.6" y="39.8" font-size="23.5" style="fill:#000;stroke:#000;stroke-width:0.35">A</text>
<text x="99.3" y="368.8" font-size="23.5" style="fill:#000;stroke:#000;stroke-width:0.35">B</text>
<g stroke-width="2.5" stroke-linecap="butt" fill="none">
<line x1="454.8" y1="20.6" x2="483.3" y2="20.6" stroke="#ed10aa"/>
<line x1="561.3" y1="20.6" x2="589.8" y2="20.6" stroke="#ed1079"/>
<line x1="454.8" y1="44.9" x2="483.3" y2="44.9" stroke="#ed1047"/>
<line x1="561.3" y1="44.9" x2="589.8" y2="44.9" stroke="#ed1035"/>
<line x1="454.8" y1="69.1" x2="483.3" y2="69.1" stroke="#ed1022"/>
<line x1="561.3" y1="69.1" x2="589.8" y2="69.1" stroke="#ed2410"/>
<line x1="454.8" y1="93.3" x2="483.3" y2="93.3" stroke="#ed4b10"/>
<line x1="561.3" y1="93.3" x2="589.8" y2="93.3" stroke="#ed6110"/>
<line x1="454.8" y1="117.6" x2="483.3" y2="117.6" stroke="#ed7710"/>
<line x1="561.3" y1="117.6" x2="589.8" y2="117.6" stroke="#ed8d10"/>
<line x1="454.8" y1="141.8" x2="483.3" y2="141.8" stroke="#eda310"/>
<line x1="561.3" y1="141.8" x2="589.8" y2="141.8" stroke="#edc810"/>
<line x1="454.8" y1="166.1" x2="483.3" y2="166.1" stroke="#eded10"/>
<line x1="561.3" y1="166.1" x2="589.8" y2="166.1" stroke="#cced10"/>
<line x1="454.8" y1="190.3" x2="483.3" y2="190.3" stroke="#aaed10"/>
<line x1="561.3" y1="190.3" x2="589.8" y2="190.3" stroke="#7eed10"/>
<line x1="454.8" y1="214.6" x2="483.3" y2="214.6" stroke="#52ed10"/>
<line x1="561.3" y1="214.6" x2="589.8" y2="214.6" stroke="#42ed10"/>
<line x1="454.8" y1="238.8" x2="483.3" y2="238.8" stroke="#31ed10"/>
<line x1="561.3" y1="238.8" x2="589.8" y2="238.8" stroke="#16ed10"/>
<line x1="454.8" y1="263.1" x2="483.3" y2="263.1" stroke="#10ed26"/>
<line x1="561.3" y1="263.1" x2="589.8" y2="263.1" stroke="#10ed4f"/>
<line x1="454.8" y1="287.4" x2="483.3" y2="287.4" stroke="#10ed77"/>
<line x1="561.3" y1="287.4" x2="589.8" y2="287.4" stroke="#10ed93"/>
<line x1="454.8" y1="311.6" x2="483.3" y2="311.6" stroke="#10edae"/>
<line x1="561.3" y1="311.6" x2="589.8" y2="311.6" stroke="#10edd1"/>
<line x1="454.8" y1="335.9" x2="483.3" y2="335.9" stroke="#10e5ed"/>
<line x1="561.3" y1="335.9" x2="589.8" y2="335.9" stroke="#10c8ed"/>
<line x1="454.8" y1="360.1" x2="483.3" y2="360.1" stroke="#10aaed"/>
<line x1="561.3" y1="360.1" x2="589.8" y2="360.1" stroke="#1093ed"/>
<line x1="454.8" y1="384.4" x2="483.3" y2="384.4" stroke="#107bed"/>
<line x1="561.3" y1="384.4" x2="589.8" y2="384.4" stroke="#105bed"/>
<line x1="454.8" y1="408.6" x2="483.3" y2="408.6" stroke="#103ced"/>
</g>
<g font-size="17" letter-spacing="-0.7">
<text x="497.2" y="26.0">US</text>
<text x="603.4" y="26.0">DE</text>
<text x="497.2" y="50.2">AU</text>
<text x="603.4" y="50.2">RU</text>
<text x="497.2" y="74.5">CH</text>
<text x="603.4" y="74.5">FR</text>
<text x="497.2" y="98.8">HK</text>
<text x="603.4" y="98.8">TW</text>
<text x="497.2" y="123.0">CZ</text>
<text x="603.4" y="123.0">GB</text>
<text x="497.2" y="147.2">AT</text>
<text x="603.4" y="147.2">NL</text>
<text x="497.2" y="171.5">IT</text>
<text x="603.4" y="171.5">PL</text>
<text x="497.2" y="195.8">MY</text>
<text x="603.4" y="195.8">SA</text>
<text x="497.2" y="220.0">PH</text>
<text x="603.4" y="220.0">HU</text>
<text x="497.2" y="244.2">NO</text>
<text x="603.4" y="244.2">SE</text>
<text x="497.2" y="268.5">ES</text>
<text x="603.4" y="268.5">IN</text>
<text x="497.2" y="292.8">ID</text>
<text x="603.4" y="292.8">ZA</text>
<text x="497.2" y="317.0">BR</text>
<text x="603.4" y="317.0">VN</text>
<text x="497.2" y="341.2">TR</text>
<text x="603.4" y="341.2">IR</text>
<text x="497.2" y="365.5">MX</text>
<text x="603.4" y="365.5">AR</text>
<text x="497.2" y="389.8">EG</text>
<text x="603.4" y="389.8">CO</text>
<text x="497.2" y="414.0">FI</text>
</g>
</svg></body></html>
